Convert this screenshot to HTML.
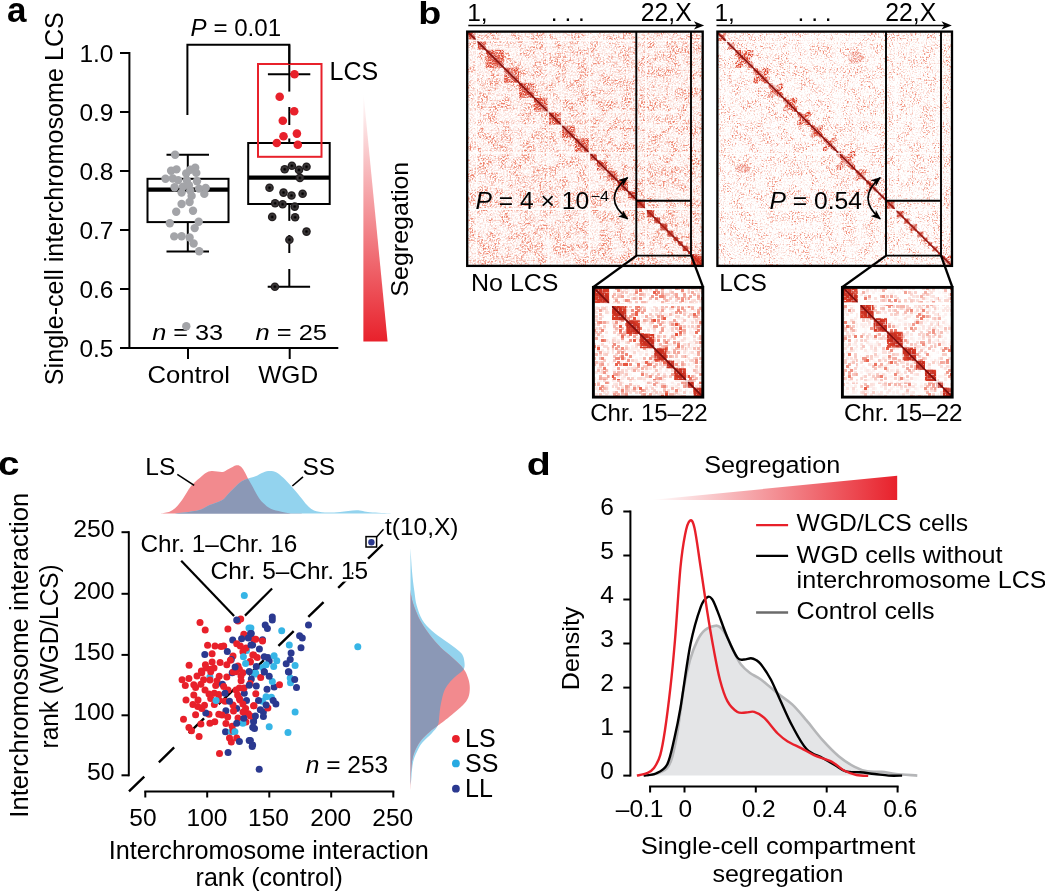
<!DOCTYPE html><html><head><meta charset="utf-8"><style>
html,body{margin:0;padding:0;background:#fff;}
svg{display:block;will-change:transform;}
text{font-family:"Liberation Sans",sans-serif;}
</style></head><body>
<svg width="1045" height="895" viewBox="0 0 1045 895">
<defs>
<marker id="arrh" viewBox="0 0 10 8" refX="9" refY="4" markerWidth="10" markerHeight="8" markerUnits="userSpaceOnUse" orient="auto-start-reverse"><path d="M0,0 L10,4 L0,8 L2.5,4 Z" fill="#000"/></marker>
<linearGradient id="gradA" x1="0" y1="0" x2="0" y2="1"><stop offset="0" stop-color="#e8212b" stop-opacity="0"/><stop offset="1" stop-color="#e8212b"/></linearGradient>
<linearGradient id="gradD" x1="0" y1="0" x2="1" y2="0"><stop offset="0" stop-color="#e8212b" stop-opacity="0"/><stop offset="1" stop-color="#e8212b"/></linearGradient>
<filter id="nbg1" x="0" y="0" width="1" height="1" color-interpolation-filters="sRGB">
<feTurbulence type="fractalNoise" baseFrequency="0.6" numOctaves="2" seed="1" result="hi"/>
<feColorMatrix in="hi" type="matrix" values="0 0 0 0 0  0 0 0 0 0  0 0 0 0 0  3.6 0 0 0 -1.5" result="ha"/>
<feTurbulence type="fractalNoise" baseFrequency="0.09" numOctaves="3" seed="21" result="lo"/>
<feColorMatrix in="lo" type="matrix" values="0 0 0 0 0  0 0 0 0 0  0 0 0 0 0  4.5 0 0 0 -1.9" result="la"/>
<feTurbulence type="fractalNoise" baseFrequency="0 0.3" numOctaves="2" seed="41" result="rw"/>
<feColorMatrix in="rw" type="matrix" values="0 0 0 0 0  0 0 0 0 0  0 0 0 0 0  1.2 0 0 0 -0.55" result="ra"/>
<feTurbulence type="fractalNoise" baseFrequency="0.3 0" numOctaves="2" seed="61" result="cl"/>
<feColorMatrix in="cl" type="matrix" values="0 0 0 0 0  0 0 0 0 0  0 0 0 0 0  1.2 0 0 0 -0.55" result="ca"/>
<feComposite in="ra" in2="ca" operator="arithmetic" k1="0" k2="1" k3="1" k4="0" result="rc"/>
<feComposite in="la" in2="rc" operator="arithmetic" k1="0" k2="1" k3="1" k4="0" result="s"/>
<feComposite in="ha" in2="s" operator="arithmetic" k1="0.6" k2="0.15" k3="0" k4="0.0" result="m"/>
<feFlood flood-color="#ea5a3c"/>
<feComposite in2="m" operator="in" result="col"/>
</filter><filter id="nblk1" x="0" y="0" width="1" height="1" color-interpolation-filters="sRGB">
<feTurbulence type="fractalNoise" baseFrequency="0.7" numOctaves="2" seed="2" result="hi"/>
<feColorMatrix in="hi" type="matrix" values="0 0 0 0 0  0 0 0 0 0  0 0 0 0 0  4.0 0 0 0 -1.4" result="ha"/>
<feTurbulence type="fractalNoise" baseFrequency="0.1" numOctaves="3" seed="22" result="lo"/>
<feColorMatrix in="lo" type="matrix" values="0 0 0 0 0  0 0 0 0 0  0 0 0 0 0  3.0 0 0 0 -0.8" result="la"/>
<feTurbulence type="fractalNoise" baseFrequency="0 0.3" numOctaves="2" seed="42" result="rw"/>
<feColorMatrix in="rw" type="matrix" values="0 0 0 0 0  0 0 0 0 0  0 0 0 0 0  1.5 0 0 0 -0.6" result="ra"/>
<feTurbulence type="fractalNoise" baseFrequency="0.3 0" numOctaves="2" seed="62" result="cl"/>
<feColorMatrix in="cl" type="matrix" values="0 0 0 0 0  0 0 0 0 0  0 0 0 0 0  1.5 0 0 0 -0.6" result="ca"/>
<feComposite in="ra" in2="ca" operator="arithmetic" k1="0" k2="1" k3="1" k4="0" result="rc"/>
<feComposite in="la" in2="rc" operator="arithmetic" k1="0" k2="1" k3="1" k4="0" result="s"/>
<feComposite in="ha" in2="s" operator="arithmetic" k1="0.75" k2="0.12" k3="0" k4="0.06" result="m"/>
<feFlood flood-color="#df4029"/>
<feComposite in2="m" operator="in" result="col"/>
</filter><filter id="nbg2" x="0" y="0" width="1" height="1" color-interpolation-filters="sRGB">
<feTurbulence type="fractalNoise" baseFrequency="0.65" numOctaves="2" seed="3" result="hi"/>
<feColorMatrix in="hi" type="matrix" values="0 0 0 0 0  0 0 0 0 0  0 0 0 0 0  3.6 0 0 0 -1.72" result="ha"/>
<feTurbulence type="fractalNoise" baseFrequency="0.09" numOctaves="3" seed="23" result="lo"/>
<feColorMatrix in="lo" type="matrix" values="0 0 0 0 0  0 0 0 0 0  0 0 0 0 0  4.5 0 0 0 -1.9" result="la"/>
<feTurbulence type="fractalNoise" baseFrequency="0 0.3" numOctaves="2" seed="43" result="rw"/>
<feColorMatrix in="rw" type="matrix" values="0 0 0 0 0  0 0 0 0 0  0 0 0 0 0  1.2 0 0 0 -0.55" result="ra"/>
<feTurbulence type="fractalNoise" baseFrequency="0.3 0" numOctaves="2" seed="63" result="cl"/>
<feColorMatrix in="cl" type="matrix" values="0 0 0 0 0  0 0 0 0 0  0 0 0 0 0  1.2 0 0 0 -0.55" result="ca"/>
<feComposite in="ra" in2="ca" operator="arithmetic" k1="0" k2="1" k3="1" k4="0" result="rc"/>
<feComposite in="la" in2="rc" operator="arithmetic" k1="0" k2="1" k3="1" k4="0" result="s"/>
<feComposite in="ha" in2="s" operator="arithmetic" k1="0.6" k2="0.12" k3="0" k4="0.0" result="m"/>
<feFlood flood-color="#ea5a3c"/>
<feComposite in2="m" operator="in" result="col"/>
</filter><filter id="nblk2" x="0" y="0" width="1" height="1" color-interpolation-filters="sRGB">
<feTurbulence type="fractalNoise" baseFrequency="0.7" numOctaves="2" seed="4" result="hi"/>
<feColorMatrix in="hi" type="matrix" values="0 0 0 0 0  0 0 0 0 0  0 0 0 0 0  4.0 0 0 0 -1.5" result="ha"/>
<feTurbulence type="fractalNoise" baseFrequency="0.1" numOctaves="3" seed="24" result="lo"/>
<feColorMatrix in="lo" type="matrix" values="0 0 0 0 0  0 0 0 0 0  0 0 0 0 0  3.0 0 0 0 -0.7" result="la"/>
<feTurbulence type="fractalNoise" baseFrequency="0 0.3" numOctaves="2" seed="44" result="rw"/>
<feColorMatrix in="rw" type="matrix" values="0 0 0 0 0  0 0 0 0 0  0 0 0 0 0  1.5 0 0 0 -0.6" result="ra"/>
<feTurbulence type="fractalNoise" baseFrequency="0.3 0" numOctaves="2" seed="64" result="cl"/>
<feColorMatrix in="cl" type="matrix" values="0 0 0 0 0  0 0 0 0 0  0 0 0 0 0  1.5 0 0 0 -0.6" result="ca"/>
<feComposite in="ra" in2="ca" operator="arithmetic" k1="0" k2="1" k3="1" k4="0" result="rc"/>
<feComposite in="la" in2="rc" operator="arithmetic" k1="0" k2="1" k3="1" k4="0" result="s"/>
<feComposite in="ha" in2="s" operator="arithmetic" k1="0.8" k2="0.15" k3="0" k4="0.06" result="m"/>
<feFlood flood-color="#e0432b"/>
<feComposite in2="m" operator="in" result="col"/>
</filter><filter id="nbg3" x="0" y="0" width="1" height="1" color-interpolation-filters="sRGB">
<feTurbulence type="fractalNoise" baseFrequency="0.45" numOctaves="2" seed="5" result="hi"/>
<feColorMatrix in="hi" type="matrix" values="0 0 0 0 0  0 0 0 0 0  0 0 0 0 0  4.4 0 0 0 -2.2" result="ha"/>
<feTurbulence type="fractalNoise" baseFrequency="0.07" numOctaves="3" seed="25" result="lo"/>
<feColorMatrix in="lo" type="matrix" values="0 0 0 0 0  0 0 0 0 0  0 0 0 0 0  3.0 0 0 0 -1.1" result="la"/>
<feTurbulence type="fractalNoise" baseFrequency="0 0.15" numOctaves="2" seed="45" result="rw"/>
<feColorMatrix in="rw" type="matrix" values="0 0 0 0 0  0 0 0 0 0  0 0 0 0 0  1.5 0 0 0 -0.7" result="ra"/>
<feTurbulence type="fractalNoise" baseFrequency="0.15 0" numOctaves="2" seed="65" result="cl"/>
<feColorMatrix in="cl" type="matrix" values="0 0 0 0 0  0 0 0 0 0  0 0 0 0 0  1.5 0 0 0 -0.7" result="ca"/>
<feComposite in="ra" in2="ca" operator="arithmetic" k1="0" k2="1" k3="1" k4="0" result="rc"/>
<feComposite in="la" in2="rc" operator="arithmetic" k1="0" k2="1" k3="1" k4="0" result="s"/>
<feComposite in="ha" in2="s" operator="arithmetic" k1="0.95" k2="0.04" k3="0" k4="0.0" result="m"/>
<feFlood flood-color="#e7513a"/>
<feComposite in2="m" operator="in" result="col"/>
<feFlood x="594" y="288" width="1" height="1" flood-color="#000" result="fl"/>
<feComposite in="fl" in2="fl" x="593" y="287" width="2" height="2" result="cell"/>
<feTile in="cell" result="grid"/>
<feComposite in="col" in2="grid" operator="in"/>
<feMorphology operator="dilate" radius="1"/>
</filter><filter id="nblk3" x="0" y="0" width="1" height="1" color-interpolation-filters="sRGB">
<feTurbulence type="fractalNoise" baseFrequency="0.45" numOctaves="2" seed="6" result="hi"/>
<feColorMatrix in="hi" type="matrix" values="0 0 0 0 0  0 0 0 0 0  0 0 0 0 0  4.0 0 0 0 -1.3" result="ha"/>
<feTurbulence type="fractalNoise" baseFrequency="0.07" numOctaves="3" seed="26" result="lo"/>
<feColorMatrix in="lo" type="matrix" values="0 0 0 0 0  0 0 0 0 0  0 0 0 0 0  3.0 0 0 0 -0.3" result="la"/>
<feTurbulence type="fractalNoise" baseFrequency="0 0.3" numOctaves="2" seed="46" result="rw"/>
<feColorMatrix in="rw" type="matrix" values="0 0 0 0 0  0 0 0 0 0  0 0 0 0 0  1.5 0 0 0 -0.6" result="ra"/>
<feTurbulence type="fractalNoise" baseFrequency="0.3 0" numOctaves="2" seed="66" result="cl"/>
<feColorMatrix in="cl" type="matrix" values="0 0 0 0 0  0 0 0 0 0  0 0 0 0 0  1.5 0 0 0 -0.6" result="ca"/>
<feComposite in="ra" in2="ca" operator="arithmetic" k1="0" k2="1" k3="1" k4="0" result="rc"/>
<feComposite in="la" in2="rc" operator="arithmetic" k1="0" k2="1" k3="1" k4="0" result="s"/>
<feComposite in="ha" in2="s" operator="arithmetic" k1="0.9" k2="0.25" k3="0" k4="0.2" result="m"/>
<feFlood flood-color="#d83a26"/>
<feComposite in2="m" operator="in" result="col"/>
<feFlood x="594" y="288" width="1" height="1" flood-color="#000" result="fl"/>
<feComposite in="fl" in2="fl" x="593" y="287" width="2" height="2" result="cell"/>
<feTile in="cell" result="grid"/>
<feComposite in="col" in2="grid" operator="in"/>
<feMorphology operator="dilate" radius="1"/>
</filter><filter id="nbg4" x="0" y="0" width="1" height="1" color-interpolation-filters="sRGB">
<feTurbulence type="fractalNoise" baseFrequency="0.45" numOctaves="2" seed="7" result="hi"/>
<feColorMatrix in="hi" type="matrix" values="0 0 0 0 0  0 0 0 0 0  0 0 0 0 0  4.4 0 0 0 -2.3" result="ha"/>
<feTurbulence type="fractalNoise" baseFrequency="0.07" numOctaves="3" seed="27" result="lo"/>
<feColorMatrix in="lo" type="matrix" values="0 0 0 0 0  0 0 0 0 0  0 0 0 0 0  3.0 0 0 0 -1.2" result="la"/>
<feTurbulence type="fractalNoise" baseFrequency="0 0.15" numOctaves="2" seed="47" result="rw"/>
<feColorMatrix in="rw" type="matrix" values="0 0 0 0 0  0 0 0 0 0  0 0 0 0 0  1.5 0 0 0 -0.7" result="ra"/>
<feTurbulence type="fractalNoise" baseFrequency="0.15 0" numOctaves="2" seed="67" result="cl"/>
<feColorMatrix in="cl" type="matrix" values="0 0 0 0 0  0 0 0 0 0  0 0 0 0 0  1.5 0 0 0 -0.7" result="ca"/>
<feComposite in="ra" in2="ca" operator="arithmetic" k1="0" k2="1" k3="1" k4="0" result="rc"/>
<feComposite in="la" in2="rc" operator="arithmetic" k1="0" k2="1" k3="1" k4="0" result="s"/>
<feComposite in="ha" in2="s" operator="arithmetic" k1="0.9" k2="0.03" k3="0" k4="0.0" result="m"/>
<feFlood flood-color="#e7513a"/>
<feComposite in2="m" operator="in" result="col"/>
<feFlood x="843" y="288" width="1" height="1" flood-color="#000" result="fl"/>
<feComposite in="fl" in2="fl" x="842" y="287" width="2" height="2" result="cell"/>
<feTile in="cell" result="grid"/>
<feComposite in="col" in2="grid" operator="in"/>
<feMorphology operator="dilate" radius="1"/>
</filter><filter id="nblk4" x="0" y="0" width="1" height="1" color-interpolation-filters="sRGB">
<feTurbulence type="fractalNoise" baseFrequency="0.45" numOctaves="2" seed="8" result="hi"/>
<feColorMatrix in="hi" type="matrix" values="0 0 0 0 0  0 0 0 0 0  0 0 0 0 0  4.0 0 0 0 -1.4" result="ha"/>
<feTurbulence type="fractalNoise" baseFrequency="0.07" numOctaves="3" seed="28" result="lo"/>
<feColorMatrix in="lo" type="matrix" values="0 0 0 0 0  0 0 0 0 0  0 0 0 0 0  3.0 0 0 0 -0.4" result="la"/>
<feTurbulence type="fractalNoise" baseFrequency="0 0.3" numOctaves="2" seed="48" result="rw"/>
<feColorMatrix in="rw" type="matrix" values="0 0 0 0 0  0 0 0 0 0  0 0 0 0 0  1.5 0 0 0 -0.6" result="ra"/>
<feTurbulence type="fractalNoise" baseFrequency="0.3 0" numOctaves="2" seed="68" result="cl"/>
<feColorMatrix in="cl" type="matrix" values="0 0 0 0 0  0 0 0 0 0  0 0 0 0 0  1.5 0 0 0 -0.6" result="ca"/>
<feComposite in="ra" in2="ca" operator="arithmetic" k1="0" k2="1" k3="1" k4="0" result="rc"/>
<feComposite in="la" in2="rc" operator="arithmetic" k1="0" k2="1" k3="1" k4="0" result="s"/>
<feComposite in="ha" in2="s" operator="arithmetic" k1="0.9" k2="0.2" k3="0" k4="0.15" result="m"/>
<feFlood flood-color="#d83a26"/>
<feComposite in2="m" operator="in" result="col"/>
<feFlood x="843" y="288" width="1" height="1" flood-color="#000" result="fl"/>
<feComposite in="fl" in2="fl" x="842" y="287" width="2" height="2" result="cell"/>
<feTile in="cell" result="grid"/>
<feComposite in="col" in2="grid" operator="in"/>
<feMorphology operator="dilate" radius="1"/>
</filter></defs>
<rect width="1045" height="895" fill="#fff"/>
<text x="7.0" y="21.5" font-size="35" font-weight="bold">a</text>
<text transform="translate(62.5,198.7) rotate(-90)" font-size="25" text-anchor="middle" textLength="373" lengthAdjust="spacingAndGlyphs">Single-cell interchromosome LCS</text>
<line x1="129.4" y1="52.0" x2="129.4" y2="349.0" stroke="#000" stroke-width="2"/>
<line x1="120.0" y1="53.0" x2="129.4" y2="53.0" stroke="#000" stroke-width="2"/>
<text x="113.5" y="62.2" font-size="24.5" text-anchor="end">1.0</text>
<line x1="120.0" y1="112.0" x2="129.4" y2="112.0" stroke="#000" stroke-width="2"/>
<text x="113.5" y="121.2" font-size="24.5" text-anchor="end">0.9</text>
<line x1="120.0" y1="171.0" x2="129.4" y2="171.0" stroke="#000" stroke-width="2"/>
<text x="113.5" y="180.2" font-size="24.5" text-anchor="end">0.8</text>
<line x1="120.0" y1="230.0" x2="129.4" y2="230.0" stroke="#000" stroke-width="2"/>
<text x="113.5" y="239.2" font-size="24.5" text-anchor="end">0.7</text>
<line x1="120.0" y1="289.0" x2="129.4" y2="289.0" stroke="#000" stroke-width="2"/>
<text x="113.5" y="298.2" font-size="24.5" text-anchor="end">0.6</text>
<line x1="120.0" y1="348.0" x2="129.4" y2="348.0" stroke="#000" stroke-width="2"/>
<text x="113.5" y="357.2" font-size="24.5" text-anchor="end">0.5</text>
<line x1="128.4" y1="348.0" x2="338.3" y2="348.0" stroke="#000" stroke-width="2"/>
<line x1="188.0" y1="348.0" x2="188.0" y2="359.0" stroke="#000" stroke-width="2"/>
<line x1="289.7" y1="348.0" x2="289.7" y2="359.0" stroke="#000" stroke-width="2"/>
<text x="188.8" y="382.8" font-size="24.5" text-anchor="middle" textLength="82.5" lengthAdjust="spacingAndGlyphs">Control</text>
<text x="288.2" y="382.8" font-size="24.5" text-anchor="middle">WGD</text>
<text x="152.2" y="340.1" font-size="22.5" textLength="71" lengthAdjust="spacingAndGlyphs"><tspan font-style="italic">n</tspan> = 33</text>
<text x="255.5" y="340.1" font-size="22.5" textLength="71.5" lengthAdjust="spacingAndGlyphs"><tspan font-style="italic">n</tspan> = 25</text>
<rect x="147.5" y="178.8" width="81" height="43.3" fill="none" stroke="#000" stroke-width="2"/>
<line x1="147.5" y1="189.6" x2="228.5" y2="189.6" stroke="#000" stroke-width="4.2"/>
<line x1="187.8" y1="154.7" x2="187.8" y2="178.8" stroke="#000" stroke-width="2"/>
<line x1="187.8" y1="222.0" x2="187.8" y2="251.6" stroke="#000" stroke-width="2"/>
<line x1="166.5" y1="154.7" x2="209.0" y2="154.7" stroke="#000" stroke-width="2"/>
<line x1="166.5" y1="251.6" x2="209.0" y2="251.6" stroke="#000" stroke-width="2"/>
<circle cx="175.1" cy="154.7" r="4.2" fill="#a3a4a8"/>
<circle cx="171.1" cy="170.7" r="4.2" fill="#a3a4a8"/>
<circle cx="176.5" cy="169.4" r="4.2" fill="#a3a4a8"/>
<circle cx="186.2" cy="173.4" r="4.2" fill="#a3a4a8"/>
<circle cx="190.3" cy="169.8" r="4.2" fill="#a3a4a8"/>
<circle cx="195.2" cy="167.8" r="4.2" fill="#a3a4a8"/>
<circle cx="196.3" cy="172.9" r="4.2" fill="#a3a4a8"/>
<circle cx="165.5" cy="178.8" r="4.2" fill="#a3a4a8"/>
<circle cx="172.8" cy="178.5" r="4.2" fill="#a3a4a8"/>
<circle cx="178.2" cy="180.1" r="4.2" fill="#a3a4a8"/>
<circle cx="186.9" cy="180.5" r="4.2" fill="#a3a4a8"/>
<circle cx="197.0" cy="181.2" r="4.2" fill="#a3a4a8"/>
<circle cx="174.6" cy="187.2" r="4.2" fill="#a3a4a8"/>
<circle cx="182.9" cy="186.6" r="4.2" fill="#a3a4a8"/>
<circle cx="188.9" cy="185.2" r="4.2" fill="#a3a4a8"/>
<circle cx="199.0" cy="188.6" r="4.2" fill="#a3a4a8"/>
<circle cx="205.7" cy="187.9" r="4.2" fill="#a3a4a8"/>
<circle cx="181.6" cy="192.6" r="4.2" fill="#a3a4a8"/>
<circle cx="190.3" cy="190.6" r="4.2" fill="#a3a4a8"/>
<circle cx="191.6" cy="195.9" r="4.2" fill="#a3a4a8"/>
<circle cx="204.3" cy="193.9" r="4.2" fill="#a3a4a8"/>
<circle cx="181.6" cy="204.0" r="4.2" fill="#a3a4a8"/>
<circle cx="189.6" cy="202.0" r="4.2" fill="#a3a4a8"/>
<circle cx="176.2" cy="211.8" r="4.2" fill="#a3a4a8"/>
<circle cx="193.0" cy="210.7" r="4.2" fill="#a3a4a8"/>
<circle cx="169.8" cy="223.2" r="4.2" fill="#a3a4a8"/>
<circle cx="198.7" cy="221.7" r="4.2" fill="#a3a4a8"/>
<circle cx="194.7" cy="228.1" r="4.2" fill="#a3a4a8"/>
<circle cx="174.2" cy="236.4" r="4.2" fill="#a3a4a8"/>
<circle cx="181.6" cy="236.2" r="4.2" fill="#a3a4a8"/>
<circle cx="189.6" cy="237.5" r="4.2" fill="#a3a4a8"/>
<circle cx="193.6" cy="243.5" r="4.2" fill="#a3a4a8"/>
<circle cx="199.2" cy="251.2" r="4.2" fill="#a3a4a8"/>
<circle cx="186.3" cy="326.3" r="4.2" fill="#a3a4a8"/>
<rect x="248.2" y="143" width="81.5" height="61" fill="none" stroke="#000" stroke-width="2"/>
<line x1="248.2" y1="177.7" x2="329.7" y2="177.7" stroke="#000" stroke-width="4.2"/>
<line x1="289.3" y1="44.7" x2="289.3" y2="91.6" stroke="#000" stroke-width="2"/>
<line x1="289.3" y1="107.0" x2="289.3" y2="125.0" stroke="#000" stroke-width="2"/>
<line x1="289.3" y1="138.5" x2="289.3" y2="143.0" stroke="#000" stroke-width="2"/>
<line x1="289.3" y1="204.0" x2="289.3" y2="220.9" stroke="#000" stroke-width="2"/>
<line x1="289.3" y1="235.0" x2="289.3" y2="253.0" stroke="#000" stroke-width="2"/>
<line x1="289.3" y1="269.0" x2="289.3" y2="286.7" stroke="#000" stroke-width="2"/>
<line x1="267.9" y1="74.2" x2="310.3" y2="74.2" stroke="#000" stroke-width="2"/>
<line x1="267.7" y1="286.7" x2="310.1" y2="286.7" stroke="#000" stroke-width="2"/>
<circle cx="284.7" cy="169.3" r="4.3" fill="#231f20"/>
<circle cx="284.7" cy="169.3" r="2.4" fill="none" stroke="#3b3839" stroke-width="1.1"/>
<circle cx="284.7" cy="169.3" r="1.0" fill="#000"/>
<circle cx="291.9" cy="165.8" r="4.3" fill="#231f20"/>
<circle cx="291.9" cy="165.8" r="2.4" fill="none" stroke="#3b3839" stroke-width="1.1"/>
<circle cx="291.9" cy="165.8" r="1.0" fill="#000"/>
<circle cx="299.0" cy="169.9" r="4.3" fill="#231f20"/>
<circle cx="299.0" cy="169.9" r="2.4" fill="none" stroke="#3b3839" stroke-width="1.1"/>
<circle cx="299.0" cy="169.9" r="1.0" fill="#000"/>
<circle cx="306.5" cy="166.8" r="4.3" fill="#231f20"/>
<circle cx="306.5" cy="166.8" r="2.4" fill="none" stroke="#3b3839" stroke-width="1.1"/>
<circle cx="306.5" cy="166.8" r="1.0" fill="#000"/>
<circle cx="299.9" cy="177.9" r="4.3" fill="#231f20"/>
<circle cx="299.9" cy="177.9" r="2.4" fill="none" stroke="#3b3839" stroke-width="1.1"/>
<circle cx="299.9" cy="177.9" r="1.0" fill="#000"/>
<circle cx="269.5" cy="187.8" r="4.3" fill="#231f20"/>
<circle cx="269.5" cy="187.8" r="2.4" fill="none" stroke="#3b3839" stroke-width="1.1"/>
<circle cx="269.5" cy="187.8" r="1.0" fill="#000"/>
<circle cx="283.5" cy="192.6" r="4.3" fill="#231f20"/>
<circle cx="283.5" cy="192.6" r="2.4" fill="none" stroke="#3b3839" stroke-width="1.1"/>
<circle cx="283.5" cy="192.6" r="1.0" fill="#000"/>
<circle cx="291.5" cy="195.5" r="4.3" fill="#231f20"/>
<circle cx="291.5" cy="195.5" r="2.4" fill="none" stroke="#3b3839" stroke-width="1.1"/>
<circle cx="291.5" cy="195.5" r="1.0" fill="#000"/>
<circle cx="302.6" cy="193.7" r="4.3" fill="#231f20"/>
<circle cx="302.6" cy="193.7" r="2.4" fill="none" stroke="#3b3839" stroke-width="1.1"/>
<circle cx="302.6" cy="193.7" r="1.0" fill="#000"/>
<circle cx="275.1" cy="203.3" r="4.3" fill="#231f20"/>
<circle cx="275.1" cy="203.3" r="2.4" fill="none" stroke="#3b3839" stroke-width="1.1"/>
<circle cx="275.1" cy="203.3" r="1.0" fill="#000"/>
<circle cx="282.6" cy="204.2" r="4.3" fill="#231f20"/>
<circle cx="282.6" cy="204.2" r="2.4" fill="none" stroke="#3b3839" stroke-width="1.1"/>
<circle cx="282.6" cy="204.2" r="1.0" fill="#000"/>
<circle cx="294.7" cy="206.6" r="4.3" fill="#231f20"/>
<circle cx="294.7" cy="206.6" r="2.4" fill="none" stroke="#3b3839" stroke-width="1.1"/>
<circle cx="294.7" cy="206.6" r="1.0" fill="#000"/>
<circle cx="272.2" cy="216.9" r="4.3" fill="#231f20"/>
<circle cx="272.2" cy="216.9" r="2.4" fill="none" stroke="#3b3839" stroke-width="1.1"/>
<circle cx="272.2" cy="216.9" r="1.0" fill="#000"/>
<circle cx="295.1" cy="217.3" r="4.3" fill="#231f20"/>
<circle cx="295.1" cy="217.3" r="2.4" fill="none" stroke="#3b3839" stroke-width="1.1"/>
<circle cx="295.1" cy="217.3" r="1.0" fill="#000"/>
<circle cx="306.5" cy="231.6" r="4.3" fill="#231f20"/>
<circle cx="306.5" cy="231.6" r="2.4" fill="none" stroke="#3b3839" stroke-width="1.1"/>
<circle cx="306.5" cy="231.6" r="1.0" fill="#000"/>
<circle cx="289.4" cy="239.7" r="4.3" fill="#231f20"/>
<circle cx="289.4" cy="239.7" r="2.4" fill="none" stroke="#3b3839" stroke-width="1.1"/>
<circle cx="289.4" cy="239.7" r="1.0" fill="#000"/>
<circle cx="274.9" cy="286.7" r="4.3" fill="#231f20"/>
<circle cx="274.9" cy="286.7" r="2.4" fill="none" stroke="#3b3839" stroke-width="1.1"/>
<circle cx="274.9" cy="286.7" r="1.0" fill="#000"/>
<circle cx="294.5" cy="74.2" r="4.3" fill="#e8212b"/>
<circle cx="279.7" cy="96.8" r="4.3" fill="#e8212b"/>
<circle cx="294.2" cy="111.3" r="4.3" fill="#e8212b"/>
<circle cx="282.8" cy="120.7" r="4.3" fill="#e8212b"/>
<circle cx="296.9" cy="133.6" r="4.3" fill="#e8212b"/>
<circle cx="283.5" cy="136.3" r="4.3" fill="#e8212b"/>
<circle cx="276.8" cy="143.0" r="4.3" fill="#e8212b"/>
<circle cx="297.8" cy="144.8" r="4.3" fill="#e8212b"/>
<rect x="258" y="64" width="63.5" height="92.8" fill="none" stroke="#e8212b" stroke-width="2"/>
<polyline points="187.4,115 187.4,44.7 289.3,44.7 289.3,64" fill="none" stroke="#000" stroke-width="2"/>
<text x="190.6" y="35.8" font-size="23.5" textLength="90.5" lengthAdjust="spacingAndGlyphs"><tspan font-style="italic">P</tspan> = 0.01</text>
<text x="329.6" y="79.9" font-size="25">LCS</text>
<polygon points="363.4,92.5 387.6,341.6 363.4,341.6" fill="url(#gradA)"/>
<text transform="translate(408.2,229.2) rotate(-90)" font-size="24.5" text-anchor="middle" textLength="135" lengthAdjust="spacingAndGlyphs">Segregation</text>
<clipPath id="h1c"><rect x="467" y="31" width="236" height="235"/></clipPath>
<g clip-path="url(#h1c)">
<rect x="467" y="31" width="236" height="235" fill="#fff"/>
<rect x="467" y="31" width="236" height="235" filter="url(#nbg1)"/>
<clipPath id="h1b"><rect x="467.0" y="31.0" width="8.5" height="8.5"/><rect x="475.5" y="39.5" width="1.9" height="1.9"/><rect x="477.4" y="41.4" width="8.5" height="8.5"/><rect x="485.9" y="49.8" width="18.0" height="17.9"/><rect x="503.9" y="67.7" width="15.1" height="15.0"/><rect x="519.0" y="82.8" width="15.1" height="15.0"/><rect x="534.1" y="97.8" width="14.2" height="14.1"/><rect x="548.3" y="112.0" width="13.2" height="13.1"/><rect x="561.5" y="125.1" width="13.2" height="13.1"/><rect x="574.7" y="138.2" width="14.8" height="14.7"/><rect x="589.5" y="153.0" width="7.5" height="7.5"/><rect x="597.0" y="160.4" width="10.1" height="10.1"/><rect x="607.1" y="170.5" width="10.1" height="10.1"/><rect x="617.2" y="180.6" width="10.7" height="10.7"/><rect x="627.9" y="191.2" width="8.4" height="8.4"/><rect x="636.3" y="199.6" width="8.7" height="8.7"/><rect x="645.0" y="208.2" width="1.8" height="1.8"/><rect x="646.8" y="210.0" width="7.2" height="7.2"/><rect x="654.0" y="217.2" width="6.2" height="6.2"/><rect x="660.2" y="223.4" width="7.2" height="7.2"/><rect x="667.4" y="230.6" width="6.2" height="6.2"/><rect x="673.6" y="236.7" width="4.5" height="4.5"/><rect x="678.1" y="241.2" width="4.5" height="4.5"/><rect x="682.6" y="245.7" width="5.3" height="5.3"/><rect x="687.9" y="251.0" width="3.1" height="3.1"/><rect x="691.0" y="254.1" width="12.0" height="11.9"/></clipPath>
<g clip-path="url(#h1b)"><rect x="467" y="31" width="236" height="235" filter="url(#nblk1)"/><line x1="467" y1="31" x2="703" y2="266" stroke="#b01c18" stroke-width="5" stroke-opacity="0.35"/></g>
<line x1="467" y1="31" x2="703" y2="266" stroke="#86120f" stroke-width="1.6"/>
<line x1="476.5" y1="31" x2="476.5" y2="266" stroke="#fff" stroke-width="1.4" stroke-opacity="0.9"/>
<line x1="467" y1="40.5" x2="703" y2="40.5" stroke="#fff" stroke-width="1.4" stroke-opacity="0.9"/>
<line x1="548.3" y1="31" x2="548.3" y2="266" stroke="#fff" stroke-width="1.2" stroke-opacity="0.8"/>
<line x1="467" y1="112.0" x2="703" y2="112.0" stroke="#fff" stroke-width="1.2" stroke-opacity="0.8"/>
<line x1="561.5" y1="31" x2="561.5" y2="266" stroke="#fff" stroke-width="1.1" stroke-opacity="0.7"/>
<line x1="467" y1="125.1" x2="703" y2="125.1" stroke="#fff" stroke-width="1.1" stroke-opacity="0.7"/>
<line x1="589.5" y1="31" x2="589.5" y2="266" stroke="#fff" stroke-width="1.4" stroke-opacity="0.9"/>
<line x1="467" y1="153.0" x2="703" y2="153.0" stroke="#fff" stroke-width="1.4" stroke-opacity="0.9"/>
<line x1="645.9" y1="31" x2="645.9" y2="266" stroke="#fff" stroke-width="1.6" stroke-opacity="0.9"/>
<line x1="467" y1="209.1" x2="703" y2="209.1" stroke="#fff" stroke-width="1.6" stroke-opacity="0.9"/>
</g>
<clipPath id="h2c"><rect x="717" y="32" width="235" height="234"/></clipPath>
<g clip-path="url(#h2c)">
<rect x="717" y="32" width="235" height="234" fill="#fff"/>
<rect x="717" y="32" width="235" height="234" filter="url(#nbg2)"/>
<clipPath id="h2b"><polygon points="725.0,32.0 727.2,32.0 727.2,34.2 719.2,42.2 717.0,42.2 717.0,39.9"/><polygon points="717.0,32.0 719.2,32.0 727.2,39.9 727.2,42.2 725.0,42.2 717.0,34.2"/><polygon points="732.8,42.2 735.2,42.2 735.2,44.6 729.6,50.1 727.2,50.1 727.2,47.7"/><polygon points="727.2,42.2 729.6,42.2 735.2,47.7 735.2,50.1 732.8,50.1 727.2,44.6"/><polygon points="747.9,50.1 753.3,50.1 753.3,55.6 740.6,68.1 735.2,68.1 735.2,62.7"/><polygon points="735.2,50.1 740.6,50.1 753.3,62.7 753.3,68.1 747.9,68.1 735.2,55.6"/><polygon points="764.0,68.1 768.6,68.1 768.6,72.7 757.9,83.4 753.3,83.4 753.3,78.8"/><polygon points="753.3,68.1 757.9,68.1 768.6,78.8 768.6,83.4 764.0,83.4 753.3,72.7"/><polygon points="778.8,83.4 783.1,83.4 783.1,87.7 773.0,97.8 768.6,97.8 768.6,93.5"/><polygon points="768.6,83.4 773.0,83.4 783.1,93.5 783.1,97.8 778.8,97.8 768.6,87.7"/><polygon points="793.0,97.8 797.2,97.8 797.2,102.0 787.3,111.9 783.1,111.9 783.1,107.6"/><polygon points="783.1,97.8 787.3,97.8 797.2,107.6 797.2,111.9 793.0,111.9 783.1,102.0"/><polygon points="806.7,111.9 810.7,111.9 810.7,115.9 801.2,125.3 797.2,125.3 797.2,121.3"/><polygon points="797.2,111.9 801.2,111.9 810.7,121.3 810.7,125.3 806.7,125.3 797.2,115.9"/><polygon points="819.3,125.3 823.0,125.3 823.0,129.0 814.4,137.5 810.7,137.5 810.7,133.9"/><polygon points="810.7,125.3 814.4,125.3 823.0,133.9 823.0,137.5 819.3,137.5 810.7,129.0"/><polygon points="833.5,137.5 836.5,137.5 836.5,140.5 826.0,151.0 823.0,151.0 823.0,148.0"/><polygon points="823.0,137.5 826.0,137.5 836.5,148.0 836.5,151.0 833.5,151.0 823.0,140.5"/><polygon points="851.4,151.0 855.6,151.0 855.6,155.2 840.7,170.0 836.5,170.0 836.5,165.8"/><polygon points="836.5,151.0 840.7,151.0 855.6,165.8 855.6,170.0 851.4,170.0 836.5,155.2"/><polygon points="863.7,170.0 866.0,170.0 866.0,172.3 857.9,180.4 855.6,180.4 855.6,178.1"/><polygon points="855.6,170.0 857.9,170.0 866.0,178.1 866.0,180.4 863.7,180.4 855.6,172.3"/><polygon points="875.6,180.4 878.3,180.4 878.3,183.1 868.7,192.6 866.0,192.6 866.0,189.9"/><polygon points="866.0,180.4 868.7,180.4 878.3,189.9 878.3,192.6 875.6,192.6 866.0,183.1"/><polygon points="884.3,192.6 886.0,192.6 886.0,194.3 880.0,200.3 878.3,200.3 878.3,198.6"/><polygon points="878.3,192.6 880.0,192.6 886.0,198.6 886.0,200.3 884.3,200.3 878.3,194.3"/><polygon points="892.8,200.3 894.7,200.3 894.7,202.2 887.9,208.9 886.0,208.9 886.0,207.0"/><polygon points="886.0,200.3 887.9,200.3 894.7,207.0 894.7,208.9 892.8,208.9 886.0,202.2"/><polygon points="896.1,208.9 896.5,208.9 896.5,209.3 895.1,210.7 894.7,210.7 894.7,210.3"/><polygon points="894.7,208.9 895.1,208.9 896.5,210.3 896.5,210.7 896.1,210.7 894.7,209.3"/><polygon points="902.1,210.7 903.7,210.7 903.7,212.3 898.1,217.9 896.5,217.9 896.5,216.3"/><polygon points="896.5,210.7 898.1,210.7 903.7,216.3 903.7,217.9 902.1,217.9 896.5,212.3"/><polygon points="908.5,217.9 909.9,217.9 909.9,219.3 905.1,224.1 903.7,224.1 903.7,222.7"/><polygon points="903.7,217.9 905.1,217.9 909.9,222.7 909.9,224.1 908.5,224.1 903.7,219.3"/><polygon points="915.5,224.1 917.1,224.1 917.1,225.7 911.5,231.2 909.9,231.2 909.9,229.7"/><polygon points="909.9,224.1 911.5,224.1 917.1,229.7 917.1,231.2 915.5,231.2 909.9,225.7"/><polygon points="921.9,231.2 923.3,231.2 923.3,232.6 918.5,237.4 917.1,237.4 917.1,236.1"/><polygon points="917.1,231.2 918.5,231.2 923.3,236.1 923.3,237.4 921.9,237.4 917.1,232.6"/><polygon points="926.8,237.4 927.8,237.4 927.8,238.4 924.3,241.9 923.3,241.9 923.3,240.9"/><polygon points="923.3,237.4 924.3,237.4 927.8,240.9 927.8,241.9 926.8,241.9 923.3,238.4"/><polygon points="931.3,241.9 932.3,241.9 932.3,242.9 928.8,246.4 927.8,246.4 927.8,245.4"/><polygon points="927.8,241.9 928.8,241.9 932.3,245.4 932.3,246.4 931.3,246.4 927.8,242.9"/><polygon points="936.4,246.4 937.6,246.4 937.6,247.5 933.5,251.7 932.3,251.7 932.3,250.5"/><polygon points="932.3,246.4 933.5,246.4 937.6,250.5 937.6,251.7 936.4,251.7 932.3,247.5"/><polygon points="940.3,251.7 941.0,251.7 941.0,252.4 938.3,255.0 937.6,255.0 937.6,254.3"/><polygon points="937.6,251.7 938.3,251.7 941.0,254.3 941.0,255.0 940.3,255.0 937.6,252.4"/><polygon points="949.6,255.0 952.0,255.0 952.0,257.5 943.4,266.0 941.0,266.0 941.0,263.6"/><polygon points="941.0,255.0 943.4,255.0 952.0,263.6 952.0,266.0 949.6,266.0 941.0,257.5"/></clipPath>
<clipPath id="h2x"><ellipse cx="855.5" cy="57.5" rx="7.5" ry="6.5"/><ellipse cx="742.5" cy="168.5" rx="7.5" ry="4.5"/><ellipse cx="860.8000000000001" cy="174.0" rx="5.2" ry="5.2"/><ellipse cx="870.0" cy="183.2" rx="4.0" ry="4.0"/></clipPath>
<g clip-path="url(#h2x)" opacity="0.55"><rect x="717" y="32" width="235" height="234" filter="url(#nblk2)"/></g>
<g clip-path="url(#h2b)"><rect x="717" y="32" width="235" height="234" filter="url(#nblk2)"/><line x1="717" y1="32" x2="952" y2="266" stroke="#b01c18" stroke-width="4" stroke-opacity="0.3"/></g>
<line x1="717" y1="32" x2="952" y2="266" stroke="#86120f" stroke-width="1.5"/>
<line x1="726.5" y1="32" x2="726.5" y2="266" stroke="#fff" stroke-width="1.2" stroke-opacity="0.8"/>
<line x1="717" y1="41.5" x2="952" y2="41.5" stroke="#fff" stroke-width="1.2" stroke-opacity="0.8"/>
<line x1="839" y1="32" x2="839" y2="266" stroke="#fff" stroke-width="1.2" stroke-opacity="0.8"/>
<line x1="717" y1="153.5" x2="952" y2="153.5" stroke="#fff" stroke-width="1.2" stroke-opacity="0.8"/>
<line x1="895.6" y1="32" x2="895.6" y2="266" stroke="#fff" stroke-width="1.5" stroke-opacity="0.9"/>
<line x1="717" y1="209.8" x2="952" y2="209.8" stroke="#fff" stroke-width="1.5" stroke-opacity="0.9"/>
</g>
<rect x="636.6" y="199.9" width="8.1" height="8.1" fill="#c02a1c" fill-opacity="0.55"/>
<rect x="647.1" y="210.3" width="6.6" height="6.6" fill="#c02a1c" fill-opacity="0.55"/>
<rect x="654.3" y="217.5" width="5.6" height="5.6" fill="#c02a1c" fill-opacity="0.55"/>
<rect x="660.5" y="223.7" width="6.6" height="6.6" fill="#c02a1c" fill-opacity="0.55"/>
<rect x="667.7" y="230.9" width="5.6" height="5.6" fill="#c02a1c" fill-opacity="0.55"/>
<rect x="673.9" y="237.0" width="3.9" height="3.9" fill="#c02a1c" fill-opacity="0.55"/>
<rect x="678.4" y="241.5" width="3.9" height="3.9" fill="#c02a1c" fill-opacity="0.55"/>
<rect x="682.9" y="246.0" width="4.7" height="4.7" fill="#c02a1c" fill-opacity="0.55"/>
<rect x="688.2" y="251.3" width="2.5" height="2.5" fill="#c02a1c" fill-opacity="0.55"/>
<rect x="886.3" y="200.6" width="8.1" height="8.1" fill="#c02a1c" fill-opacity="0.4"/>
<rect x="896.8" y="211.0" width="6.6" height="6.6" fill="#c02a1c" fill-opacity="0.4"/>
<rect x="904.0" y="218.2" width="5.6" height="5.6" fill="#c02a1c" fill-opacity="0.4"/>
<rect x="910.2" y="224.4" width="6.6" height="6.6" fill="#c02a1c" fill-opacity="0.4"/>
<rect x="917.4" y="231.6" width="5.6" height="5.6" fill="#c02a1c" fill-opacity="0.4"/>
<rect x="923.6" y="237.7" width="3.9" height="3.9" fill="#c02a1c" fill-opacity="0.4"/>
<rect x="928.1" y="242.2" width="3.9" height="3.9" fill="#c02a1c" fill-opacity="0.4"/>
<rect x="932.6" y="246.7" width="4.7" height="4.7" fill="#c02a1c" fill-opacity="0.4"/>
<rect x="937.9" y="252.0" width="2.8" height="2.8" fill="#c02a1c" fill-opacity="0.4"/>
<rect x="691.5" y="256" width="11" height="9.5" fill="#d9301f" fill-opacity="0.75" filter="url(#nblk1)"/>
<rect x="691.5" y="256" width="11" height="9.5" fill="#d9301f" fill-opacity="0.6"/>
<rect x="467.2" y="31.6" width="235.5" height="234.3" fill="none" stroke="#000" stroke-width="2.3"/>
<polyline points="636.3,31.6 636.3,255.6 691,255.6 691,31.6" fill="none" stroke="#000" stroke-width="1.9"/>
<line x1="636.3" y1="200.7" x2="691.0" y2="200.7" stroke="#000" stroke-width="1.9"/>
<rect x="717.4" y="31.6" width="234.6" height="234.3" fill="none" stroke="#000" stroke-width="2.3"/>
<polyline points="886,31.6 886,255.6 941,255.6 941,31.6" fill="none" stroke="#000" stroke-width="1.9"/>
<line x1="886.0" y1="200.7" x2="941.0" y2="200.7" stroke="#000" stroke-width="1.9"/>
<clipPath id="h3c"><rect x="593" y="287" width="110" height="110"/></clipPath>
<g clip-path="url(#h3c)">
<rect x="593" y="287" width="110" height="110" fill="#fff"/>
<rect x="593" y="287" width="110" height="110" filter="url(#nbg3)"/>
<clipPath id="h3b"><rect x="593.0" y="287.0" width="16.2" height="16.2"/><rect x="609.2" y="303.2" width="2.8" height="2.8"/><rect x="612.0" y="306.0" width="14.3" height="14.3"/><rect x="626.3" y="320.3" width="13.6" height="13.6"/><rect x="639.9" y="333.9" width="14.3" height="14.3"/><rect x="654.2" y="348.2" width="12.3" height="12.3"/><rect x="666.5" y="360.5" width="7.7" height="7.7"/><rect x="674.2" y="368.2" width="11.7" height="11.7"/><rect x="685.9" y="379.9" width="7.8" height="7.8"/><rect x="693.7" y="387.7" width="9.3" height="9.3"/></clipPath>
<g clip-path="url(#h3b)"><rect x="593" y="287" width="110" height="110" filter="url(#nblk3)"/><line x1="593" y1="287" x2="703" y2="397" stroke="#b01c18" stroke-width="9" stroke-opacity="0.35"/></g>
<line x1="593" y1="287" x2="703" y2="397" stroke="#7a0e0e" stroke-width="1.6"/>
<line x1="610.6" y1="287" x2="610.6" y2="397" stroke="#fff" stroke-width="2.6" stroke-opacity="1"/>
<line x1="593" y1="304.6" x2="703" y2="304.6" stroke="#fff" stroke-width="2.6" stroke-opacity="1"/>
<line x1="687" y1="287" x2="687" y2="397" stroke="#fff" stroke-width="1.5" stroke-opacity="0.8"/>
<line x1="593" y1="381.0" x2="703" y2="381.0" stroke="#fff" stroke-width="1.5" stroke-opacity="0.8"/>
</g>
<rect x="593.4" y="287.4" width="109.4" height="109.7" fill="none" stroke="#000" stroke-width="2.9"/>
<clipPath id="h4c"><rect x="842.3" y="287" width="110" height="110"/></clipPath>
<g clip-path="url(#h4c)">
<rect x="842.3" y="287" width="110" height="110" fill="#fff"/>
<rect x="842.3" y="287" width="110" height="110" filter="url(#nbg4)"/>
<clipPath id="h4b"><rect x="842.3" y="287.0" width="15.7" height="15.7"/><rect x="858.0" y="302.7" width="2.0" height="2.0"/><rect x="860.0" y="304.7" width="13.6" height="13.6"/><rect x="873.6" y="318.3" width="13.4" height="13.4"/><rect x="887.0" y="331.7" width="15.7" height="15.7"/><rect x="902.7" y="347.4" width="13.3" height="13.3"/><rect x="916.0" y="360.7" width="9.0" height="9.0"/><rect x="925.0" y="369.7" width="11.2" height="11.2"/><rect x="936.2" y="380.9" width="6.8" height="6.8"/><rect x="943.0" y="387.7" width="9.3" height="9.3"/></clipPath>
<g clip-path="url(#h4b)"><rect x="842.3" y="287" width="110" height="110" filter="url(#nblk4)"/><line x1="842.3" y1="287" x2="952.3" y2="397" stroke="#b01c18" stroke-width="9" stroke-opacity="0.35"/></g>
<line x1="842.3" y1="287" x2="952.3" y2="397" stroke="#7a0e0e" stroke-width="1.6"/>
<line x1="859" y1="287" x2="859" y2="397" stroke="#fff" stroke-width="2.4" stroke-opacity="1"/>
<line x1="842.3" y1="303.7" x2="952.3" y2="303.7" stroke="#fff" stroke-width="2.4" stroke-opacity="1"/>
<line x1="937" y1="287" x2="937" y2="397" stroke="#fff" stroke-width="1.5" stroke-opacity="0.8"/>
<line x1="842.3" y1="381.7" x2="952.3" y2="381.7" stroke="#fff" stroke-width="1.5" stroke-opacity="0.8"/>
</g>
<rect x="842.4" y="287.4" width="109.8" height="109.7" fill="none" stroke="#000" stroke-width="2.9"/>
<line x1="636.6" y1="255.6" x2="593.5" y2="287.0" stroke="#000" stroke-width="2.3"/>
<line x1="691.2" y1="255.6" x2="703.0" y2="287.0" stroke="#000" stroke-width="2.3"/>
<line x1="886.2" y1="255.6" x2="842.5" y2="287.0" stroke="#000" stroke-width="2.3"/>
<line x1="941.0" y1="255.6" x2="952.3" y2="287.0" stroke="#000" stroke-width="2.3"/>
<line x1="468.3" y1="25.4" x2="698.2" y2="25.4" stroke="#000" stroke-width="1.5"/>
<polygon points="704.2,25.4 693.9000000000001,21.2 696.7,25.4 693.9000000000001,29.6" fill="#000"/>
<line x1="716.5" y1="25.4" x2="945.8" y2="25.4" stroke="#000" stroke-width="1.5"/>
<polygon points="951.8,25.4 941.5,21.2 944.3,25.4 941.5,29.6" fill="#000"/>
<text x="467.2" y="20.6" font-size="24.5">1,</text>
<text x="550.8" y="20.6" font-size="24.5" textLength="34.0" lengthAdjust="spacingAndGlyphs">. . .</text>
<text x="640.8" y="20.6" font-size="25" textLength="51.0" lengthAdjust="spacingAndGlyphs">22,X</text>
<text x="714.4" y="20.6" font-size="24.5">1,</text>
<text x="797.6" y="20.6" font-size="24.5" textLength="34.0" lengthAdjust="spacingAndGlyphs">. . .</text>
<text x="885.3" y="20.6" font-size="25" textLength="51.0" lengthAdjust="spacingAndGlyphs">22,X</text>
<text x="418.3" y="24.1" font-size="31" textLength="23.0" lengthAdjust="spacingAndGlyphs" font-weight="bold">b</text>
<text x="475.6" y="209.0" font-size="24" textLength="113.5" lengthAdjust="spacingAndGlyphs"><tspan font-style="italic">P</tspan> = 4 × 10</text>
<text x="590.5" y="200.9" font-size="14" textLength="18.5" lengthAdjust="spacingAndGlyphs">−4</text>
<text x="769.5" y="208.9" font-size="24" textLength="92.5" lengthAdjust="spacingAndGlyphs"><tspan font-style="italic">P</tspan> = 0.54</text>
<path d="M627.6,177.6 Q601.0,198.2 627.6,218.8" fill="none" stroke="#000" stroke-width="1.7" marker-start="url(#arrh)" marker-end="url(#arrh)"/>
<path d="M880.2,177.6 Q855.8000000000001,198.2 880.2,218.8" fill="none" stroke="#000" stroke-width="1.7" marker-start="url(#arrh)" marker-end="url(#arrh)"/>
<text x="471.0" y="290.8" font-size="24.5" textLength="87.5" lengthAdjust="spacingAndGlyphs">No LCS</text>
<text x="719.2" y="290.8" font-size="24.5">LCS</text>
<text x="590.2" y="420.6" font-size="24" textLength="117.5" lengthAdjust="spacingAndGlyphs">Chr. 15–22</text>
<text x="844.1" y="420.6" font-size="24" textLength="118.5" lengthAdjust="spacingAndGlyphs">Chr. 15–22</text>
<text x="-2.0" y="475.0" font-size="34" textLength="21.5" lengthAdjust="spacingAndGlyphs" font-weight="bold">c</text>
<path d="M161.0,513.4 C162.5,513.1 167.3,512.7 170.0,511.5 C172.7,510.3 175.0,508.4 177.3,506.0 C179.6,503.6 181.9,500.1 184.0,497.0 C186.1,493.9 188.2,490.0 190.0,487.5 C191.8,485.0 193.3,483.6 195.0,482.0 C196.7,480.4 198.2,479.2 200.0,477.7 C201.8,476.2 203.8,474.0 205.7,472.9 C207.6,471.8 209.6,471.2 211.5,471.0 C213.4,470.8 215.3,471.3 217.2,471.5 C219.1,471.7 221.1,472.4 223.0,472.0 C224.9,471.6 226.5,470.2 228.7,469.1 C230.9,468.0 234.3,465.7 236.4,465.3 C238.5,464.9 239.7,465.5 241.1,466.7 C242.5,467.9 243.9,470.5 245.0,472.4 C246.1,474.3 246.7,476.1 247.8,478.2 C248.9,480.3 250.1,482.0 251.7,484.9 C253.3,487.8 255.5,492.4 257.4,495.4 C259.3,498.4 261.0,500.9 263.2,503.1 C265.4,505.3 267.8,507.4 270.8,508.8 C273.8,510.2 278.0,510.9 281.3,511.7 C284.6,512.5 287.5,513.1 290.9,513.4 C294.3,513.7 299.9,513.4 301.7,513.4 L301.7,513.4 L161.0,513.4 Z" fill="#f28a8e"/>
<path d="M174.8,513.4 C176.5,513.2 180.8,513.1 185.0,512.5 C189.2,511.9 195.9,511.1 200.0,509.8 C204.1,508.6 205.9,506.6 209.6,505.0 C213.3,503.4 218.8,502.1 222.0,500.2 C225.2,498.3 226.3,495.9 228.7,493.5 C231.1,491.1 234.2,487.9 236.4,485.8 C238.6,483.7 240.2,482.3 242.1,481.1 C244.0,479.9 245.6,479.5 247.8,478.7 C250.0,477.9 252.9,477.4 255.5,476.3 C258.1,475.2 260.8,473.3 263.2,472.4 C265.6,471.5 267.7,471.0 269.9,471.0 C272.1,471.0 274.4,471.3 276.6,472.4 C278.8,473.5 280.9,475.5 283.3,477.7 C285.7,479.9 288.1,482.7 290.9,485.8 C293.7,488.9 297.3,493.2 300.0,496.4 C302.7,499.6 304.7,502.6 307.0,505.0 C309.3,507.4 311.0,509.2 314.0,510.5 C317.0,511.8 320.7,512.2 325.0,512.5 C329.3,512.8 334.8,512.4 340.0,512.0 C345.2,511.6 351.5,510.2 356.5,510.2 C361.5,510.2 364.2,511.7 370.0,512.2 C375.8,512.7 387.8,513.2 391.3,513.4 L391.3,513.4 L174.8,513.4 Z" fill="#93d3ee"/>
<clipPath id="clipRT"><path d="M161.0,513.4 C162.5,513.1 167.3,512.7 170.0,511.5 C172.7,510.3 175.0,508.4 177.3,506.0 C179.6,503.6 181.9,500.1 184.0,497.0 C186.1,493.9 188.2,490.0 190.0,487.5 C191.8,485.0 193.3,483.6 195.0,482.0 C196.7,480.4 198.2,479.2 200.0,477.7 C201.8,476.2 203.8,474.0 205.7,472.9 C207.6,471.8 209.6,471.2 211.5,471.0 C213.4,470.8 215.3,471.3 217.2,471.5 C219.1,471.7 221.1,472.4 223.0,472.0 C224.9,471.6 226.5,470.2 228.7,469.1 C230.9,468.0 234.3,465.7 236.4,465.3 C238.5,464.9 239.7,465.5 241.1,466.7 C242.5,467.9 243.9,470.5 245.0,472.4 C246.1,474.3 246.7,476.1 247.8,478.2 C248.9,480.3 250.1,482.0 251.7,484.9 C253.3,487.8 255.5,492.4 257.4,495.4 C259.3,498.4 261.0,500.9 263.2,503.1 C265.4,505.3 267.8,507.4 270.8,508.8 C273.8,510.2 278.0,510.9 281.3,511.7 C284.6,512.5 287.5,513.1 290.9,513.4 C294.3,513.7 299.9,513.4 301.7,513.4 L301.7,514 L161,514 Z"/></clipPath>
<path clip-path="url(#clipRT)" d="M174.8,513.4 C176.5,513.2 180.8,513.1 185.0,512.5 C189.2,511.9 195.9,511.1 200.0,509.8 C204.1,508.6 205.9,506.6 209.6,505.0 C213.3,503.4 218.8,502.1 222.0,500.2 C225.2,498.3 226.3,495.9 228.7,493.5 C231.1,491.1 234.2,487.9 236.4,485.8 C238.6,483.7 240.2,482.3 242.1,481.1 C244.0,479.9 245.6,479.5 247.8,478.7 C250.0,477.9 252.9,477.4 255.5,476.3 C258.1,475.2 260.8,473.3 263.2,472.4 C265.6,471.5 267.7,471.0 269.9,471.0 C272.1,471.0 274.4,471.3 276.6,472.4 C278.8,473.5 280.9,475.5 283.3,477.7 C285.7,479.9 288.1,482.7 290.9,485.8 C293.7,488.9 297.3,493.2 300.0,496.4 C302.7,499.6 304.7,502.6 307.0,505.0 C309.3,507.4 311.0,509.2 314.0,510.5 C317.0,511.8 320.7,512.2 325.0,512.5 C329.3,512.8 334.8,512.4 340.0,512.0 C345.2,511.6 351.5,510.2 356.5,510.2 C361.5,510.2 364.2,511.7 370.0,512.2 C375.8,512.7 387.8,513.2 391.3,513.4 L391.3,513.4 L174.8,513.4 Z" fill="#8b98b6"/>
<path d="M410.5,548.6 C410.8,552.4 411.4,564.1 412.0,571.3 C412.6,578.5 413.6,585.9 414.4,591.6 C415.2,597.3 415.4,600.9 416.7,605.6 C418.0,610.3 419.7,615.5 422.2,619.7 C424.7,623.9 428.0,627.2 431.6,630.6 C435.2,634.0 440.2,637.1 444.1,640.0 C448.0,642.9 452.0,645.4 455.0,647.8 C458.0,650.1 460.4,651.8 462.0,654.1 C463.6,656.5 464.1,659.4 464.4,661.9 C464.7,664.4 464.9,667.1 463.6,669.4 C462.3,671.7 459.1,673.3 456.6,675.6 C454.1,677.9 450.9,680.8 448.8,683.4 C446.7,686.0 445.4,687.9 444.1,691.3 C442.8,694.7 441.7,699.9 440.9,703.8 C440.1,707.7 439.9,711.1 439.4,714.7 C438.9,718.3 439.1,722.5 437.8,725.6 C436.5,728.7 434.2,730.5 431.6,733.4 C429.0,736.3 424.7,739.7 422.2,742.8 C419.7,745.9 418.1,749.3 416.7,752.2 C415.3,755.1 414.4,757.1 413.6,760.0 C412.8,762.9 412.4,766.3 412.0,769.4 C411.6,772.5 411.6,776.2 411.3,778.8 C411.1,781.4 410.6,784.0 410.5,785.0 L410.5,785.0 L410.5,548.6 Z" fill="#93d3ee"/>
<path d="M410.5,589.2 C410.6,590.4 410.7,593.3 411.3,596.3 C411.9,599.3 412.8,603.0 414.4,607.2 C415.9,611.4 418.0,616.6 420.6,621.3 C423.2,626.0 426.6,630.9 430.0,635.3 C433.4,639.7 437.2,644.1 440.9,647.8 C444.5,651.4 448.1,653.7 451.9,657.2 C455.7,660.7 460.9,665.3 463.6,668.9 C466.3,672.5 467.3,675.6 468.3,678.8 C469.3,682.0 469.8,685.0 469.8,688.1 C469.8,691.2 469.5,694.6 468.3,697.5 C467.1,700.4 465.5,702.4 462.8,705.3 C460.1,708.2 455.0,712.1 451.9,714.7 C448.8,717.3 446.5,719.1 444.1,720.9 C441.8,722.7 440.2,723.8 437.8,725.6 C435.4,727.4 432.2,729.5 429.5,731.9 C426.8,734.2 423.8,736.8 421.5,739.7 C419.2,742.6 417.3,746.0 415.8,749.1 C414.3,752.2 413.4,755.0 412.6,758.4 C411.8,761.8 411.5,765.2 411.2,769.4 C410.9,773.6 410.9,780.0 410.8,783.4 C410.7,786.8 410.6,788.9 410.5,790.0 L410.5,790.0 L410.5,589.2 Z" fill="#f28a8e"/>
<clipPath id="clipRR"><path d="M410.5,548.6 C410.8,552.4 411.4,564.1 412.0,571.3 C412.6,578.5 413.6,585.9 414.4,591.6 C415.2,597.3 415.4,600.9 416.7,605.6 C418.0,610.3 419.7,615.5 422.2,619.7 C424.7,623.9 428.0,627.2 431.6,630.6 C435.2,634.0 440.2,637.1 444.1,640.0 C448.0,642.9 452.0,645.4 455.0,647.8 C458.0,650.1 460.4,651.8 462.0,654.1 C463.6,656.5 464.1,659.4 464.4,661.9 C464.7,664.4 464.9,667.1 463.6,669.4 C462.3,671.7 459.1,673.3 456.6,675.6 C454.1,677.9 450.9,680.8 448.8,683.4 C446.7,686.0 445.4,687.9 444.1,691.3 C442.8,694.7 441.7,699.9 440.9,703.8 C440.1,707.7 439.9,711.1 439.4,714.7 C438.9,718.3 439.1,722.5 437.8,725.6 C436.5,728.7 434.2,730.5 431.6,733.4 C429.0,736.3 424.7,739.7 422.2,742.8 C419.7,745.9 418.1,749.3 416.7,752.2 C415.3,755.1 414.4,757.1 413.6,760.0 C412.8,762.9 412.4,766.3 412.0,769.4 C411.6,772.5 411.6,776.2 411.3,778.8 C411.1,781.4 410.6,784.0 410.5,785.0 L410.5,785 L410.5,548.6 Z"/></clipPath>
<path clip-path="url(#clipRR)" d="M410.5,589.2 C410.6,590.4 410.7,593.3 411.3,596.3 C411.9,599.3 412.8,603.0 414.4,607.2 C415.9,611.4 418.0,616.6 420.6,621.3 C423.2,626.0 426.6,630.9 430.0,635.3 C433.4,639.7 437.2,644.1 440.9,647.8 C444.5,651.4 448.1,653.7 451.9,657.2 C455.7,660.7 460.9,665.3 463.6,668.9 C466.3,672.5 467.3,675.6 468.3,678.8 C469.3,682.0 469.8,685.0 469.8,688.1 C469.8,691.2 469.5,694.6 468.3,697.5 C467.1,700.4 465.5,702.4 462.8,705.3 C460.1,708.2 455.0,712.1 451.9,714.7 C448.8,717.3 446.5,719.1 444.1,720.9 C441.8,722.7 440.2,723.8 437.8,725.6 C435.4,727.4 432.2,729.5 429.5,731.9 C426.8,734.2 423.8,736.8 421.5,739.7 C419.2,742.6 417.3,746.0 415.8,749.1 C414.3,752.2 413.4,755.0 412.6,758.4 C411.8,761.8 411.5,765.2 411.2,769.4 C410.9,773.6 410.9,780.0 410.8,783.4 C410.7,786.8 410.6,788.9 410.5,790.0 L410.5,790.0 L410.5,589.2 Z" fill="#8b98b6"/>
<line x1="128.8" y1="531.2" x2="128.8" y2="776.3" stroke="#000" stroke-width="2"/>
<line x1="121.5" y1="532.2" x2="128.8" y2="532.2" stroke="#000" stroke-width="2"/>
<text x="114.5" y="537.2" font-size="24.8" text-anchor="end">250</text>
<line x1="121.5" y1="593.8" x2="128.8" y2="593.8" stroke="#000" stroke-width="2"/>
<text x="114.5" y="598.8" font-size="24.8" text-anchor="end">200</text>
<line x1="121.5" y1="654.9" x2="128.8" y2="654.9" stroke="#000" stroke-width="2"/>
<text x="114.5" y="659.9" font-size="24.8" text-anchor="end">150</text>
<line x1="121.5" y1="715.3" x2="128.8" y2="715.3" stroke="#000" stroke-width="2"/>
<text x="114.5" y="720.3" font-size="24.8" text-anchor="end">100</text>
<line x1="121.5" y1="775.3" x2="128.8" y2="775.3" stroke="#000" stroke-width="2"/>
<text x="114.5" y="780.3" font-size="24.8" text-anchor="end">50</text>
<line x1="144.3" y1="791.4" x2="394.3" y2="791.4" stroke="#000" stroke-width="2"/>
<line x1="145.3" y1="791.4" x2="145.3" y2="797.5" stroke="#000" stroke-width="2"/>
<text x="143.0" y="825.5" font-size="24.5" text-anchor="middle">50</text>
<line x1="207.2" y1="791.4" x2="207.2" y2="797.5" stroke="#000" stroke-width="2"/>
<text x="207.0" y="825.5" font-size="24.5" text-anchor="middle">100</text>
<line x1="269.3" y1="791.4" x2="269.3" y2="797.5" stroke="#000" stroke-width="2"/>
<text x="268.5" y="825.5" font-size="24.5" text-anchor="middle">150</text>
<line x1="331.2" y1="791.4" x2="331.2" y2="797.5" stroke="#000" stroke-width="2"/>
<text x="330.7" y="825.5" font-size="24.5" text-anchor="middle">200</text>
<line x1="393.3" y1="791.4" x2="393.3" y2="797.5" stroke="#000" stroke-width="2"/>
<text x="392.8" y="825.5" font-size="24.5" text-anchor="middle">250</text>
<text x="268.8" y="859.2" font-size="25" text-anchor="middle" textLength="320.0" lengthAdjust="spacingAndGlyphs">Interchromosome interaction</text>
<text x="269.2" y="885.6" font-size="25" text-anchor="middle">rank (control)</text>
<text transform="translate(27.9,655.2) rotate(-90)" font-size="25.5" text-anchor="middle" textLength="325" lengthAdjust="spacingAndGlyphs">Interchromosome interaction</text>
<text transform="translate(58.1,656.4) rotate(-90)" font-size="25.5" text-anchor="middle" textLength="184" lengthAdjust="spacingAndGlyphs">rank (WGD/LCS)</text>
<line x1="129" y1="791.4" x2="382.7" y2="544.5" stroke="#000" stroke-width="2.4" stroke-dasharray="21.3 20.4"/>
<circle cx="250.4" cy="662.0" r="3.5" fill="#e8202a"/>
<circle cx="200.0" cy="622.5" r="3.5" fill="#e8202a"/>
<circle cx="239.4" cy="698.6" r="3.5" fill="#e8202a"/>
<circle cx="233.0" cy="656.0" r="3.5" fill="#e8202a"/>
<circle cx="267.9" cy="657.6" r="3.5" fill="#2b3990"/>
<circle cx="204.5" cy="705.3" r="3.5" fill="#e8202a"/>
<circle cx="295.1" cy="712.0" r="3.5" fill="#36b5e6"/>
<circle cx="262.5" cy="667.4" r="3.5" fill="#36b5e6"/>
<circle cx="255.4" cy="672.8" r="3.5" fill="#36b5e6"/>
<circle cx="197.0" cy="676.0" r="3.5" fill="#e8202a"/>
<circle cx="238.0" cy="666.0" r="3.5" fill="#e8202a"/>
<circle cx="239.4" cy="669.2" r="3.5" fill="#e8202a"/>
<circle cx="253.6" cy="721.8" r="3.5" fill="#2b3990"/>
<circle cx="209.9" cy="677.1" r="3.5" fill="#36b5e6"/>
<circle cx="218.8" cy="694.6" r="3.5" fill="#e8202a"/>
<circle cx="269.2" cy="726.7" r="3.5" fill="#36b5e6"/>
<circle cx="253.7" cy="639.2" r="3.5" fill="#e8202a"/>
<circle cx="201.4" cy="671.0" r="3.5" fill="#e8202a"/>
<circle cx="225.0" cy="701.3" r="3.5" fill="#e8202a"/>
<circle cx="228.0" cy="690.0" r="3.5" fill="#e8202a"/>
<circle cx="274.1" cy="687.0" r="3.5" fill="#2b3990"/>
<circle cx="244.3" cy="693.2" r="3.5" fill="#2b3990"/>
<circle cx="276.8" cy="660.7" r="3.5" fill="#36b5e6"/>
<circle cx="226.8" cy="664.7" r="3.5" fill="#e8202a"/>
<circle cx="188.9" cy="678.5" r="3.5" fill="#e8202a"/>
<circle cx="242.9" cy="672.7" r="3.5" fill="#e8202a"/>
<circle cx="253.6" cy="720.0" r="3.5" fill="#2b3990"/>
<circle cx="225.5" cy="731.7" r="3.5" fill="#2b3990"/>
<circle cx="238.0" cy="620.9" r="3.5" fill="#e8202a"/>
<circle cx="255.8" cy="674.0" r="3.5" fill="#36b5e6"/>
<circle cx="231.3" cy="731.7" r="3.5" fill="#36b5e6"/>
<circle cx="265.2" cy="625.0" r="3.5" fill="#2b3990"/>
<circle cx="289.3" cy="645.0" r="3.5" fill="#36b5e6"/>
<circle cx="252.7" cy="645.0" r="3.5" fill="#2b3990"/>
<circle cx="212.1" cy="653.8" r="3.5" fill="#e8202a"/>
<circle cx="198.0" cy="700.0" r="3.5" fill="#e8202a"/>
<circle cx="301.0" cy="647.7" r="3.5" fill="#2b3990"/>
<circle cx="263.4" cy="712.0" r="3.5" fill="#2b3990"/>
<circle cx="254.5" cy="728.5" r="3.5" fill="#2b3990"/>
<circle cx="193.8" cy="684.7" r="3.5" fill="#e8202a"/>
<circle cx="295.1" cy="665.6" r="3.5" fill="#36b5e6"/>
<circle cx="254.1" cy="673.6" r="3.5" fill="#36b5e6"/>
<circle cx="259.2" cy="769.2" r="3.5" fill="#2b3990"/>
<circle cx="233.1" cy="730.8" r="3.5" fill="#e8202a"/>
<circle cx="256.3" cy="666.5" r="3.5" fill="#2b3990"/>
<circle cx="288.0" cy="732.6" r="3.5" fill="#36b5e6"/>
<circle cx="200.9" cy="684.3" r="3.5" fill="#e8202a"/>
<circle cx="252.2" cy="746.4" r="3.5" fill="#2b3990"/>
<circle cx="290.2" cy="678.0" r="3.5" fill="#36b5e6"/>
<circle cx="219.2" cy="676.3" r="3.5" fill="#e8202a"/>
<circle cx="253.6" cy="654.9" r="3.5" fill="#e8202a"/>
<circle cx="245.6" cy="712.9" r="3.5" fill="#2b3990"/>
<circle cx="232.2" cy="726.3" r="3.5" fill="#e8202a"/>
<circle cx="192.9" cy="704.4" r="3.5" fill="#e8202a"/>
<circle cx="288.4" cy="671.8" r="3.5" fill="#2b3990"/>
<circle cx="212.1" cy="662.0" r="3.5" fill="#e8202a"/>
<circle cx="279.5" cy="684.7" r="3.5" fill="#e8202a"/>
<circle cx="189.1" cy="665.2" r="3.5" fill="#e8202a"/>
<circle cx="226.8" cy="677.1" r="3.5" fill="#e8202a"/>
<circle cx="257.2" cy="657.6" r="3.5" fill="#e8202a"/>
<circle cx="209.0" cy="714.2" r="3.5" fill="#e8202a"/>
<circle cx="251.3" cy="679.0" r="3.5" fill="#2b3990"/>
<circle cx="231.3" cy="659.4" r="3.5" fill="#2b3990"/>
<circle cx="205.8" cy="712.9" r="3.5" fill="#2b3990"/>
<circle cx="260.7" cy="677.6" r="3.5" fill="#e8202a"/>
<circle cx="232.7" cy="640.1" r="3.5" fill="#2b3990"/>
<circle cx="232.2" cy="672.7" r="3.5" fill="#2b3990"/>
<circle cx="296.5" cy="687.4" r="3.5" fill="#2b3990"/>
<circle cx="246.5" cy="650.4" r="3.5" fill="#36b5e6"/>
<circle cx="200.9" cy="724.1" r="3.5" fill="#e8202a"/>
<circle cx="250.1" cy="661.6" r="3.5" fill="#e8202a"/>
<circle cx="249.0" cy="627.9" r="3.5" fill="#36b5e6"/>
<circle cx="209.9" cy="723.2" r="3.5" fill="#e8202a"/>
<circle cx="250.1" cy="683.4" r="3.5" fill="#e8202a"/>
<circle cx="269.2" cy="661.1" r="3.5" fill="#2b3990"/>
<circle cx="272.3" cy="616.9" r="3.5" fill="#2b3990"/>
<circle cx="225.9" cy="723.6" r="3.5" fill="#e8202a"/>
<circle cx="214.3" cy="693.2" r="3.5" fill="#e8202a"/>
<circle cx="240.0" cy="700.0" r="3.5" fill="#e8202a"/>
<circle cx="264.3" cy="656.7" r="3.5" fill="#2b3990"/>
<circle cx="290.2" cy="659.4" r="3.5" fill="#2b3990"/>
<circle cx="288.9" cy="671.9" r="3.5" fill="#2b3990"/>
<circle cx="235.8" cy="671.8" r="3.5" fill="#e8202a"/>
<circle cx="209.0" cy="694.1" r="3.5" fill="#e8202a"/>
<circle cx="239.4" cy="687.9" r="3.5" fill="#e8202a"/>
<circle cx="204.8" cy="654.4" r="3.5" fill="#2b3990"/>
<circle cx="308.5" cy="625.0" r="3.5" fill="#2b3990"/>
<circle cx="210.7" cy="698.6" r="3.5" fill="#e8202a"/>
<circle cx="267.0" cy="689.2" r="3.5" fill="#2b3990"/>
<circle cx="291.1" cy="653.1" r="3.5" fill="#2b3990"/>
<circle cx="233.1" cy="671.9" r="3.5" fill="#e8202a"/>
<circle cx="183.5" cy="719.2" r="3.5" fill="#e8202a"/>
<circle cx="225.9" cy="710.7" r="3.5" fill="#2b3990"/>
<circle cx="238.0" cy="718.0" r="3.5" fill="#e8202a"/>
<circle cx="205.4" cy="664.7" r="3.5" fill="#e8202a"/>
<circle cx="246.5" cy="700.4" r="3.5" fill="#2b3990"/>
<circle cx="223.7" cy="646.0" r="3.5" fill="#e8202a"/>
<circle cx="267.9" cy="708.0" r="3.5" fill="#e8202a"/>
<circle cx="246.0" cy="722.0" r="3.5" fill="#e8202a"/>
<circle cx="234.9" cy="731.7" r="3.5" fill="#36b5e6"/>
<circle cx="250.4" cy="740.6" r="3.5" fill="#2b3990"/>
<circle cx="219.5" cy="753.4" r="3.5" fill="#e8202a"/>
<circle cx="243.8" cy="634.3" r="3.5" fill="#e8202a"/>
<circle cx="210.8" cy="669.2" r="3.5" fill="#e8202a"/>
<circle cx="271.4" cy="697.3" r="3.5" fill="#36b5e6"/>
<circle cx="253.6" cy="705.7" r="3.5" fill="#e8202a"/>
<circle cx="222.0" cy="715.0" r="3.5" fill="#e8202a"/>
<circle cx="215.7" cy="685.6" r="3.5" fill="#e8202a"/>
<circle cx="250.9" cy="628.1" r="3.5" fill="#36b5e6"/>
<circle cx="251.3" cy="633.4" r="3.5" fill="#2b3990"/>
<circle cx="244.3" cy="595.4" r="3.5" fill="#36b5e6"/>
<circle cx="240.3" cy="645.9" r="3.5" fill="#e8202a"/>
<circle cx="245.6" cy="663.4" r="3.5" fill="#36b5e6"/>
<circle cx="205.0" cy="690.0" r="3.5" fill="#e8202a"/>
<circle cx="182.1" cy="679.8" r="3.5" fill="#e8202a"/>
<circle cx="240.7" cy="619.1" r="3.5" fill="#e8202a"/>
<circle cx="245.6" cy="708.4" r="3.5" fill="#e8202a"/>
<circle cx="201.8" cy="672.7" r="3.5" fill="#e8202a"/>
<circle cx="221.0" cy="646.4" r="3.5" fill="#e8202a"/>
<circle cx="244.0" cy="688.0" r="3.5" fill="#e8202a"/>
<circle cx="218.8" cy="714.2" r="3.5" fill="#e8202a"/>
<circle cx="220.1" cy="662.5" r="3.5" fill="#e8202a"/>
<circle cx="286.2" cy="663.8" r="3.5" fill="#2b3990"/>
<circle cx="214.8" cy="721.8" r="3.5" fill="#e8202a"/>
<circle cx="193.8" cy="695.0" r="3.5" fill="#e8202a"/>
<circle cx="249.2" cy="740.6" r="3.5" fill="#2b3990"/>
<circle cx="236.0" cy="690.0" r="3.5" fill="#e8202a"/>
<circle cx="357.8" cy="646.7" r="3.5" fill="#36b5e6"/>
<circle cx="236.7" cy="737.9" r="3.5" fill="#e8202a"/>
<circle cx="264.3" cy="671.9" r="3.5" fill="#2b3990"/>
<circle cx="217.0" cy="680.7" r="3.5" fill="#e8202a"/>
<circle cx="281.7" cy="630.8" r="3.5" fill="#36b5e6"/>
<circle cx="239.4" cy="741.5" r="3.5" fill="#2b3990"/>
<circle cx="231.3" cy="741.9" r="3.5" fill="#e8202a"/>
<circle cx="242.9" cy="723.2" r="3.5" fill="#36b5e6"/>
<circle cx="201.8" cy="708.4" r="3.5" fill="#e8202a"/>
<circle cx="272.3" cy="681.6" r="3.5" fill="#36b5e6"/>
<circle cx="272.3" cy="620.0" r="3.5" fill="#2b3990"/>
<circle cx="250.4" cy="716.0" r="3.5" fill="#e8202a"/>
<circle cx="249.2" cy="685.2" r="3.5" fill="#2b3990"/>
<circle cx="290.5" cy="682.7" r="3.5" fill="#36b5e6"/>
<circle cx="210.7" cy="671.8" r="3.5" fill="#e8202a"/>
<circle cx="236.7" cy="708.4" r="3.5" fill="#2b3990"/>
<circle cx="252.8" cy="654.9" r="3.5" fill="#e8202a"/>
<circle cx="262.5" cy="701.3" r="3.5" fill="#36b5e6"/>
<circle cx="246.0" cy="648.0" r="3.5" fill="#e8202a"/>
<circle cx="294.7" cy="679.4" r="3.5" fill="#2b3990"/>
<circle cx="214.3" cy="704.4" r="3.5" fill="#e8202a"/>
<circle cx="215.0" cy="646.0" r="3.5" fill="#e8202a"/>
<circle cx="203.6" cy="679.8" r="3.5" fill="#e8202a"/>
<circle cx="222.4" cy="684.3" r="3.5" fill="#2b3990"/>
<circle cx="197.8" cy="706.6" r="3.5" fill="#e8202a"/>
<circle cx="252.7" cy="745.1" r="3.5" fill="#2b3990"/>
<circle cx="266.1" cy="704.9" r="3.5" fill="#2b3990"/>
<circle cx="229.5" cy="737.9" r="3.5" fill="#e8202a"/>
<circle cx="241.6" cy="638.8" r="3.5" fill="#2b3990"/>
<circle cx="233.0" cy="705.0" r="3.5" fill="#e8202a"/>
<circle cx="195.6" cy="714.7" r="3.5" fill="#e8202a"/>
<circle cx="236.7" cy="620.0" r="3.5" fill="#2b3990"/>
<circle cx="199.1" cy="736.6" r="3.5" fill="#e8202a"/>
<circle cx="241.0" cy="676.0" r="3.5" fill="#e8202a"/>
<circle cx="241.1" cy="680.7" r="3.5" fill="#e8202a"/>
<circle cx="225.0" cy="693.2" r="3.5" fill="#2b3990"/>
<circle cx="263.4" cy="716.5" r="3.5" fill="#2b3990"/>
<circle cx="242.9" cy="704.0" r="3.5" fill="#e8202a"/>
<circle cx="258.5" cy="700.4" r="3.5" fill="#2b3990"/>
<circle cx="242.9" cy="651.8" r="3.5" fill="#e8202a"/>
<circle cx="186.0" cy="700.0" r="3.5" fill="#e8202a"/>
<circle cx="262.5" cy="639.7" r="3.5" fill="#2b3990"/>
<circle cx="266.1" cy="664.7" r="3.5" fill="#36b5e6"/>
<circle cx="266.1" cy="696.8" r="3.5" fill="#36b5e6"/>
<circle cx="188.9" cy="727.6" r="3.5" fill="#e8202a"/>
<circle cx="227.9" cy="629.1" r="3.5" fill="#e8202a"/>
<circle cx="248.3" cy="713.8" r="3.5" fill="#e8202a"/>
<circle cx="250.5" cy="633.4" r="3.5" fill="#2b3990"/>
<circle cx="264.3" cy="671.8" r="3.5" fill="#2b3990"/>
<circle cx="237.6" cy="695.0" r="3.5" fill="#e8202a"/>
<circle cx="236.7" cy="723.2" r="3.5" fill="#2b3990"/>
<circle cx="227.3" cy="651.5" r="3.5" fill="#2b3990"/>
<circle cx="269.2" cy="676.3" r="3.5" fill="#2b3990"/>
<circle cx="195.6" cy="687.4" r="3.5" fill="#e8202a"/>
<circle cx="274.1" cy="655.8" r="3.5" fill="#36b5e6"/>
<circle cx="223.7" cy="686.5" r="3.5" fill="#e8202a"/>
<circle cx="273.7" cy="666.5" r="3.5" fill="#36b5e6"/>
<circle cx="228.1" cy="752.5" r="3.5" fill="#2b3990"/>
<circle cx="207.6" cy="645.2" r="3.5" fill="#e8202a"/>
<circle cx="260.3" cy="709.8" r="3.5" fill="#2b3990"/>
<circle cx="259.4" cy="649.1" r="3.5" fill="#2b3990"/>
<circle cx="273.2" cy="700.4" r="3.5" fill="#2b3990"/>
<circle cx="243.8" cy="718.3" r="3.5" fill="#2b3990"/>
<circle cx="227.7" cy="716.9" r="3.5" fill="#e8202a"/>
<circle cx="243.0" cy="712.0" r="3.5" fill="#e8202a"/>
<circle cx="252.7" cy="727.2" r="3.5" fill="#2b3990"/>
<circle cx="299.6" cy="635.7" r="3.5" fill="#2b3990"/>
<circle cx="256.3" cy="686.1" r="3.5" fill="#2b3990"/>
<circle cx="236.7" cy="643.7" r="3.5" fill="#e8202a"/>
<circle cx="302.3" cy="637.9" r="3.5" fill="#2b3990"/>
<circle cx="233.5" cy="711.1" r="3.5" fill="#e8202a"/>
<circle cx="255.4" cy="716.0" r="3.5" fill="#2b3990"/>
<circle cx="214.0" cy="668.0" r="3.5" fill="#e8202a"/>
<circle cx="206.0" cy="668.0" r="3.5" fill="#e8202a"/>
<circle cx="275.9" cy="704.0" r="3.5" fill="#2b3990"/>
<circle cx="229.5" cy="701.3" r="3.5" fill="#2b3990"/>
<circle cx="230.4" cy="660.3" r="3.5" fill="#e8202a"/>
<circle cx="255.8" cy="639.2" r="3.5" fill="#e8202a"/>
<circle cx="219.0" cy="700.0" r="3.5" fill="#e8202a"/>
<circle cx="185.3" cy="685.6" r="3.5" fill="#e8202a"/>
<circle cx="255.8" cy="693.7" r="3.5" fill="#e8202a"/>
<circle cx="243.4" cy="656.7" r="3.5" fill="#36b5e6"/>
<circle cx="249.2" cy="671.4" r="3.5" fill="#2b3990"/>
<circle cx="216.1" cy="700.4" r="3.5" fill="#36b5e6"/>
<circle cx="248.3" cy="637.9" r="3.5" fill="#2b3990"/>
<circle cx="267.4" cy="628.5" r="3.5" fill="#2b3990"/>
<circle cx="254.0" cy="705.7" r="3.5" fill="#e8202a"/>
<circle cx="235.1" cy="667.0" r="3.5" fill="#2b3990"/>
<circle cx="191.5" cy="730.8" r="3.5" fill="#e8202a"/>
<circle cx="205.2" cy="630.1" r="3.5" fill="#e8202a"/>
<circle cx="210.0" cy="680.0" r="3.5" fill="#e8202a"/>
<circle cx="251.0" cy="645.0" r="3.5" fill="#2b3990"/>
<circle cx="262.5" cy="641.0" r="3.5" fill="#e8202a"/>
<text x="140.4" y="552.3" font-size="24" textLength="157.0" lengthAdjust="spacingAndGlyphs">Chr. 1–Chr. 16</text>
<text x="210.6" y="578.9" font-size="24" textLength="157.5" lengthAdjust="spacingAndGlyphs" stroke="#fff" stroke-width="5" paint-order="stroke" stroke-linejoin="round">Chr. 5–Chr. 15</text>
<line x1="181.2" y1="560.8" x2="234.1" y2="616.1" stroke="#000" stroke-width="2.2"/>
<line x1="272.1" y1="588.5" x2="245.0" y2="615.6" stroke="#000" stroke-width="2.2"/>
<rect x="366" y="536.6" width="10.6" height="10.4" fill="#fff" stroke="#000" stroke-width="1.5"/>
<circle cx="371.4" cy="542.3" r="3.2" fill="#2b3990"/>
<line x1="376.6" y1="537.0" x2="383.5" y2="529.2" stroke="#000" stroke-width="1.4"/>
<text x="385.0" y="535.2" font-size="24.5">t(10,X)</text>
<text x="305.8" y="773.1" font-size="24.5"><tspan font-style="italic">n</tspan> = 253</text>
<text x="145.3" y="474.9" font-size="24.5">LS</text>
<text x="302.4" y="474.9" font-size="24.5">SS</text>
<line x1="177.3" y1="474.4" x2="194.2" y2="485.3" stroke="#000" stroke-width="1.6"/>
<line x1="303.0" y1="476.8" x2="292.3" y2="486.0" stroke="#000" stroke-width="1.6"/>
<circle cx="455.9" cy="738.8" r="3.9" fill="#e8202a"/>
<text x="465.0" y="746.8" font-size="25">LS</text>
<circle cx="455.9" cy="763.4" r="3.9" fill="#27a9e1"/>
<text x="465.0" y="771.9" font-size="25">SS</text>
<circle cx="455.9" cy="788.7" r="3.9" fill="#2b3990"/>
<text x="465.0" y="796.9" font-size="25">LL</text>
<text x="526.8" y="475.3" font-size="32" textLength="24.0" lengthAdjust="spacingAndGlyphs" font-weight="bold">d</text>
<polygon points="651,500 897.2,475.8 897.2,500" fill="url(#gradD)"/>
<text x="704.2" y="473.1" font-size="24.5" textLength="136.0" lengthAdjust="spacingAndGlyphs">Segregation</text>
<path d="M647.0,775.6 C650.3,774.4 662.2,774.1 667.0,768.2 C671.8,762.3 673.2,753.4 676.0,740.0 C678.8,726.6 681.5,701.0 683.8,687.7 C686.1,674.4 687.8,667.8 690.0,660.0 C692.2,652.2 694.7,645.8 697.2,640.8 C699.7,635.8 701.9,632.5 705.0,630.0 C708.1,627.5 713.0,626.0 715.7,625.7 C718.4,625.4 719.0,626.0 721.0,628.0 C723.0,630.0 725.4,633.7 727.4,637.4 C729.4,641.1 730.8,645.5 733.0,650.0 C735.2,654.5 738.0,660.5 740.8,664.3 C743.6,668.1 746.6,670.5 750.0,673.0 C753.4,675.5 756.2,676.1 760.9,679.5 C765.5,682.9 772.7,689.5 777.9,693.6 C783.1,697.8 787.4,699.9 792.2,704.4 C797.0,708.9 801.4,714.4 806.5,720.4 C811.6,726.4 817.2,734.1 822.6,740.1 C828.0,746.1 833.4,751.7 838.7,756.2 C844.1,760.7 849.9,764.4 854.7,766.9 C859.5,769.4 862.8,770.6 867.3,771.4 C871.8,772.2 876.8,771.5 881.6,771.9 C886.4,772.3 890.0,773.4 895.9,774.0 C901.8,774.6 913.7,775.3 917.3,775.6 L917.3,775.6 L647,775.6 Z" fill="#e4e5e7"/>
<path d="M647.0,775.6 C650.3,774.4 662.2,774.1 667.0,768.2 C671.8,762.3 673.2,753.4 676.0,740.0 C678.8,726.6 681.5,701.0 683.8,687.7 C686.1,674.4 687.8,667.8 690.0,660.0 C692.2,652.2 694.7,645.8 697.2,640.8 C699.7,635.8 701.9,632.5 705.0,630.0 C708.1,627.5 713.0,626.0 715.7,625.7 C718.4,625.4 719.0,626.0 721.0,628.0 C723.0,630.0 725.4,633.7 727.4,637.4 C729.4,641.1 730.8,645.5 733.0,650.0 C735.2,654.5 738.0,660.5 740.8,664.3 C743.6,668.1 746.6,670.5 750.0,673.0 C753.4,675.5 756.2,676.1 760.9,679.5 C765.5,682.9 772.7,689.5 777.9,693.6 C783.1,697.8 787.4,699.9 792.2,704.4 C797.0,708.9 801.4,714.4 806.5,720.4 C811.6,726.4 817.2,734.1 822.6,740.1 C828.0,746.1 833.4,751.7 838.7,756.2 C844.1,760.7 849.9,764.4 854.7,766.9 C859.5,769.4 862.8,770.6 867.3,771.4 C871.8,772.2 876.8,771.5 881.6,771.9 C886.4,772.3 890.0,773.4 895.9,774.0 C901.8,774.6 913.7,775.3 917.3,775.6" fill="none" stroke="#b5b6b8" stroke-width="2.6"/>
<path d="M643.6,775.6 C645.7,775.2 652.1,775.3 656.0,773.5 C659.9,771.7 664.0,770.4 667.0,764.8 C670.0,759.2 671.8,749.5 674.0,740.0 C676.2,730.5 677.8,723.8 680.5,707.8 C683.2,691.8 687.1,660.9 690.5,644.1 C693.9,627.4 697.8,615.1 700.6,607.3 C703.4,599.5 705.4,598.6 707.3,597.2 C709.2,595.8 710.3,596.8 712.0,599.0 C713.7,601.2 714.7,604.2 717.3,610.6 C719.9,617.0 724.0,629.6 727.4,637.4 C730.8,645.2 734.6,653.9 737.4,657.6 C740.2,661.3 741.8,659.4 744.0,659.5 C746.2,659.6 748.9,658.1 750.9,658.2 C752.9,658.3 754.3,659.0 756.0,660.0 C757.7,661.0 758.4,661.1 760.9,664.3 C763.4,667.5 767.6,673.5 770.7,679.3 C773.8,685.1 776.1,691.2 779.7,699.0 C783.3,706.8 787.7,717.5 792.2,725.8 C796.7,734.1 801.4,743.6 806.5,749.0 C811.6,754.4 817.8,755.3 822.6,758.0 C827.4,760.7 831.2,762.9 835.1,765.1 C839.0,767.3 841.6,770.2 845.8,771.4 C850.0,772.6 855.3,771.9 860.1,772.3 C864.9,772.7 869.6,773.5 874.4,774.0 C879.2,774.5 884.1,775.3 888.7,775.6 C893.3,775.9 899.9,775.6 902.1,775.6" fill="none" stroke="#000" stroke-width="2.4"/>
<path d="M636.9,775.6 C638.6,775.2 644.0,774.5 646.9,773.2 C649.8,771.9 651.8,771.1 654.0,768.0 C656.2,764.9 658.5,761.1 660.3,754.8 C662.1,748.5 663.3,741.2 665.0,730.0 C666.7,718.8 668.7,702.7 670.4,687.7 C672.1,672.7 673.3,660.1 675.0,640.0 C676.7,619.9 678.8,584.5 680.5,567.0 C682.2,549.5 683.5,542.7 685.0,535.0 C686.5,527.3 688.2,522.0 689.8,520.8 C691.4,519.6 692.7,520.3 694.5,528.0 C696.3,535.7 698.5,553.3 700.6,567.0 C702.7,580.7 704.8,596.0 707.0,610.0 C709.2,624.0 711.8,639.2 714.0,650.9 C716.2,662.6 717.8,671.6 720.0,680.0 C722.2,688.4 724.5,695.8 727.4,701.1 C730.3,706.4 734.3,710.0 737.4,711.9 C740.5,713.8 743.2,712.5 746.0,712.5 C748.8,712.5 751.2,711.0 754.2,711.9 C757.2,712.8 760.4,714.3 764.3,717.9 C768.2,721.5 773.8,729.6 777.7,733.5 C781.6,737.4 783.8,739.0 787.7,741.4 C791.6,743.8 796.6,745.8 801.1,748.1 C805.6,750.4 809.4,753.1 814.5,755.4 C819.6,757.6 826.6,759.1 831.5,761.6 C836.4,764.1 839.8,768.3 844.0,770.5 C848.2,772.7 852.5,774.1 856.5,775.0 C860.5,775.9 866.2,775.8 868.2,775.9" fill="none" stroke="#e8202a" stroke-width="2.4"/>
<line x1="630.4" y1="510.5" x2="630.4" y2="776.6" stroke="#000" stroke-width="2"/>
<line x1="623.3" y1="775.6" x2="630.4" y2="775.6" stroke="#000" stroke-width="2"/>
<text x="614.0" y="779.0" font-size="24.5" text-anchor="end">0</text>
<line x1="623.3" y1="731.6" x2="630.4" y2="731.6" stroke="#000" stroke-width="2"/>
<text x="614.0" y="735.0" font-size="24.5" text-anchor="end">1</text>
<line x1="623.3" y1="687.6" x2="630.4" y2="687.6" stroke="#000" stroke-width="2"/>
<text x="614.0" y="691.0" font-size="24.5" text-anchor="end">2</text>
<line x1="623.3" y1="643.5" x2="630.4" y2="643.5" stroke="#000" stroke-width="2"/>
<text x="614.0" y="646.9" font-size="24.5" text-anchor="end">3</text>
<line x1="623.3" y1="599.5" x2="630.4" y2="599.5" stroke="#000" stroke-width="2"/>
<text x="614.0" y="602.9" font-size="24.5" text-anchor="end">4</text>
<line x1="623.3" y1="555.5" x2="630.4" y2="555.5" stroke="#000" stroke-width="2"/>
<text x="614.0" y="558.9" font-size="24.5" text-anchor="end">5</text>
<line x1="623.3" y1="511.5" x2="630.4" y2="511.5" stroke="#000" stroke-width="2"/>
<text x="614.0" y="514.9" font-size="24.5" text-anchor="end">6</text>
<line x1="649.1" y1="786.4" x2="898.6" y2="786.4" stroke="#000" stroke-width="2"/>
<line x1="650.1" y1="786.4" x2="650.1" y2="792.5" stroke="#000" stroke-width="2"/>
<text x="639.6" y="817.4" font-size="24.5" text-anchor="middle">–0.1</text>
<line x1="684.5" y1="786.4" x2="684.5" y2="792.5" stroke="#000" stroke-width="2"/>
<text x="685.3" y="817.4" font-size="24.5" text-anchor="middle">0</text>
<line x1="755.8" y1="786.4" x2="755.8" y2="792.5" stroke="#000" stroke-width="2"/>
<text x="758.7" y="817.4" font-size="24.5" text-anchor="middle">0.2</text>
<line x1="826.7" y1="786.4" x2="826.7" y2="792.5" stroke="#000" stroke-width="2"/>
<text x="829.8" y="817.4" font-size="24.5" text-anchor="middle">0.4</text>
<line x1="897.6" y1="786.4" x2="897.6" y2="792.5" stroke="#000" stroke-width="2"/>
<text x="900.3" y="817.4" font-size="24.5" text-anchor="middle">0.6</text>
<text transform="translate(578.8,648.4) rotate(-90)" font-size="24.5" text-anchor="middle" textLength="83.5" lengthAdjust="spacingAndGlyphs">Density</text>
<text x="778.0" y="854.1" font-size="24.5" text-anchor="middle" textLength="274.5" lengthAdjust="spacingAndGlyphs">Single-cell compartment</text>
<text x="777.9" y="881.9" font-size="24.5" text-anchor="middle" textLength="131.0" lengthAdjust="spacingAndGlyphs">segregation</text>
<line x1="756.1" y1="525.1" x2="788.1" y2="525.1" stroke="#e8202a" stroke-width="2.3"/>
<text x="796.6" y="531.1" font-size="24.5" textLength="171.5" lengthAdjust="spacingAndGlyphs">WGD/LCS cells</text>
<line x1="756.1" y1="555.8" x2="788.1" y2="555.8" stroke="#000" stroke-width="2.3"/>
<text x="796.6" y="562.7" font-size="24.5" textLength="206.0" lengthAdjust="spacingAndGlyphs">WGD cells without</text>
<text x="796.6" y="588.1" font-size="24.5" textLength="250.0" lengthAdjust="spacingAndGlyphs">interchromosome LCS</text>
<line x1="756.1" y1="612.5" x2="788.1" y2="612.5" stroke="#6b6b6b" stroke-width="2.3"/>
<text x="796.6" y="618.6" font-size="24.5" textLength="138.0" lengthAdjust="spacingAndGlyphs">Control cells</text>
</svg></body></html>
